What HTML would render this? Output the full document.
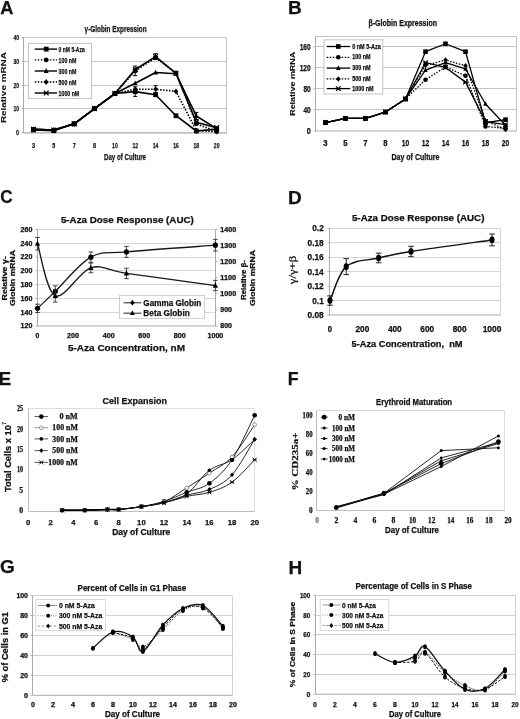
<!DOCTYPE html>
<html><head><meta charset="utf-8"><title>Figure</title>
<style>
html,body{margin:0;padding:0;background:#fff;}
body{width:520px;height:719px;overflow:hidden;}
svg{display:block;filter:blur(0.35px);}
</style></head>
<body>
<svg width="520" height="719" viewBox="0 0 520 719">
<rect width="520" height="719" fill="#fff"/>
<text x="0.20" y="14.20" font-size="19" font-weight="bold" font-family='"Liberation Sans", sans-serif' fill="#111" stroke="#111" stroke-width="0.25" textLength="13.20" lengthAdjust="spacingAndGlyphs">A</text>
<line x1="23.50" y1="108.50" x2="226.50" y2="108.50" stroke="#c4c4c4" stroke-width="1"/>
<line x1="23.50" y1="85.50" x2="226.50" y2="85.50" stroke="#c4c4c4" stroke-width="1"/>
<line x1="23.50" y1="61.50" x2="226.50" y2="61.50" stroke="#c4c4c4" stroke-width="1"/>
<line x1="23.50" y1="37.50" x2="226.50" y2="37.50" stroke="#c4c4c4" stroke-width="1"/>
<line x1="226.50" y1="37.50" x2="226.50" y2="132.90" stroke="#c4c4c4" stroke-width="1"/>
<line x1="23.50" y1="37.50" x2="23.50" y2="132.90" stroke="#ababab" stroke-width="1"/>
<line x1="23.50" y1="132.90" x2="226.50" y2="132.90" stroke="#ababab" stroke-width="1.2"/>
<line x1="21.50" y1="132.70" x2="23.50" y2="132.70" stroke="#ababab" stroke-width="1"/>
<text x="19.00" y="135.40" font-size="7.8" font-weight="bold" font-family='"Liberation Sans", sans-serif' fill="#111" stroke="#111" stroke-width="0.25" text-anchor="end" textLength="3.00" lengthAdjust="spacingAndGlyphs">0</text>
<line x1="21.50" y1="108.70" x2="23.50" y2="108.70" stroke="#ababab" stroke-width="1"/>
<text x="19.00" y="111.40" font-size="7.8" font-weight="bold" font-family='"Liberation Sans", sans-serif' fill="#111" stroke="#111" stroke-width="0.25" text-anchor="end" textLength="5.60" lengthAdjust="spacingAndGlyphs">10</text>
<line x1="21.50" y1="85.50" x2="23.50" y2="85.50" stroke="#ababab" stroke-width="1"/>
<text x="19.00" y="88.20" font-size="7.8" font-weight="bold" font-family='"Liberation Sans", sans-serif' fill="#111" stroke="#111" stroke-width="0.25" text-anchor="end" textLength="5.60" lengthAdjust="spacingAndGlyphs">20</text>
<line x1="21.50" y1="61.30" x2="23.50" y2="61.30" stroke="#ababab" stroke-width="1"/>
<text x="19.00" y="64.00" font-size="7.8" font-weight="bold" font-family='"Liberation Sans", sans-serif' fill="#111" stroke="#111" stroke-width="0.25" text-anchor="end" textLength="5.60" lengthAdjust="spacingAndGlyphs">30</text>
<line x1="21.50" y1="37.30" x2="23.50" y2="37.30" stroke="#ababab" stroke-width="1"/>
<text x="19.00" y="40.00" font-size="7.8" font-weight="bold" font-family='"Liberation Sans", sans-serif' fill="#111" stroke="#111" stroke-width="0.25" text-anchor="end" textLength="5.60" lengthAdjust="spacingAndGlyphs">40</text>
<text x="33.50" y="148.30" font-size="7.8" font-weight="bold" font-family='"Liberation Sans", sans-serif' fill="#111" stroke="#111" stroke-width="0.25" text-anchor="middle" textLength="3.00" lengthAdjust="spacingAndGlyphs">3</text>
<text x="53.85" y="148.30" font-size="7.8" font-weight="bold" font-family='"Liberation Sans", sans-serif' fill="#111" stroke="#111" stroke-width="0.25" text-anchor="middle" textLength="3.00" lengthAdjust="spacingAndGlyphs">5</text>
<text x="74.20" y="148.30" font-size="7.8" font-weight="bold" font-family='"Liberation Sans", sans-serif' fill="#111" stroke="#111" stroke-width="0.25" text-anchor="middle" textLength="3.00" lengthAdjust="spacingAndGlyphs">7</text>
<text x="94.55" y="148.30" font-size="7.8" font-weight="bold" font-family='"Liberation Sans", sans-serif' fill="#111" stroke="#111" stroke-width="0.25" text-anchor="middle" textLength="3.00" lengthAdjust="spacingAndGlyphs">8</text>
<text x="114.90" y="148.30" font-size="7.8" font-weight="bold" font-family='"Liberation Sans", sans-serif' fill="#111" stroke="#111" stroke-width="0.25" text-anchor="middle" textLength="5.60" lengthAdjust="spacingAndGlyphs">10</text>
<text x="135.25" y="148.30" font-size="7.8" font-weight="bold" font-family='"Liberation Sans", sans-serif' fill="#111" stroke="#111" stroke-width="0.25" text-anchor="middle" textLength="5.60" lengthAdjust="spacingAndGlyphs">12</text>
<text x="155.60" y="148.30" font-size="7.8" font-weight="bold" font-family='"Liberation Sans", sans-serif' fill="#111" stroke="#111" stroke-width="0.25" text-anchor="middle" textLength="5.60" lengthAdjust="spacingAndGlyphs">14</text>
<text x="175.95" y="148.30" font-size="7.8" font-weight="bold" font-family='"Liberation Sans", sans-serif' fill="#111" stroke="#111" stroke-width="0.25" text-anchor="middle" textLength="5.60" lengthAdjust="spacingAndGlyphs">16</text>
<text x="196.30" y="148.30" font-size="7.8" font-weight="bold" font-family='"Liberation Sans", sans-serif' fill="#111" stroke="#111" stroke-width="0.25" text-anchor="middle" textLength="5.60" lengthAdjust="spacingAndGlyphs">18</text>
<text x="216.65" y="148.30" font-size="7.8" font-weight="bold" font-family='"Liberation Sans", sans-serif' fill="#111" stroke="#111" stroke-width="0.25" text-anchor="middle" textLength="5.60" lengthAdjust="spacingAndGlyphs">20</text>
<text x="125.00" y="160.20" font-size="9.2" font-weight="bold" font-family='"Liberation Sans", sans-serif' fill="#111" stroke="#111" stroke-width="0.25" text-anchor="middle" textLength="42.00" lengthAdjust="spacingAndGlyphs">Day of Culture</text>
<text x="5.70" y="87.60" font-size="6.9" font-weight="bold" font-family='"Liberation Sans", sans-serif' fill="#111" stroke="#111" stroke-width="0.1" text-anchor="middle" textLength="71.00" lengthAdjust="spacingAndGlyphs" transform="rotate(-90 5.70 87.60)">Relative mRNA</text>
<text x="84.60" y="31.80" font-size="8.8" font-weight="bold" font-family='"Liberation Sans", sans-serif' fill="#111" stroke="#111" stroke-width="0.25" textLength="62.00" lengthAdjust="spacingAndGlyphs">γ-Globin Expression</text>
<rect x="28.5" y="43.5" width="63" height="55" fill="#fff" stroke="#c4c4c4" stroke-width="1"/>
<polyline points="33.50,129.92 53.85,130.75 74.20,123.84 94.55,108.57 114.90,93.55 135.25,91.64 155.60,94.74 175.95,115.73 196.30,130.99 216.65,129.08" fill="none" stroke="#000" stroke-width="1.6" stroke-linejoin="round"/>
<rect x="31.10" y="127.52" width="4.80" height="4.80" fill="#000"/>
<rect x="51.45" y="128.35" width="4.80" height="4.80" fill="#000"/>
<rect x="71.80" y="121.44" width="4.80" height="4.80" fill="#000"/>
<rect x="92.15" y="106.17" width="4.80" height="4.80" fill="#000"/>
<rect x="112.50" y="91.15" width="4.80" height="4.80" fill="#000"/>
<rect x="132.85" y="89.24" width="4.80" height="4.80" fill="#000"/>
<rect x="153.20" y="92.34" width="4.80" height="4.80" fill="#000"/>
<rect x="173.55" y="113.33" width="4.80" height="4.80" fill="#000"/>
<rect x="193.90" y="128.59" width="4.80" height="4.80" fill="#000"/>
<rect x="214.25" y="126.68" width="4.80" height="4.80" fill="#000"/>
<line x1="34.80" y1="49.10" x2="57.00" y2="49.10" stroke="#000" stroke-width="1.4"/>
<rect x="43.80" y="46.70" width="4.80" height="4.80" fill="#000"/>
<text x="58.60" y="51.70" font-size="7.3" font-weight="bold" font-family='"Liberation Sans", sans-serif' fill="#111" stroke="#111" stroke-width="0.25" textLength="26.20" lengthAdjust="spacingAndGlyphs">0 nM 5-Aza</text>
<polyline points="33.50,129.32 53.85,130.04 74.20,123.84 94.55,108.57 114.90,93.55 135.25,70.89 155.60,57.77 175.95,72.80 196.30,123.84 216.65,131.47" fill="none" stroke="#000" stroke-width="1.6" stroke-linejoin="round" stroke-dasharray="1.5,1.5"/>
<circle cx="33.50" cy="129.32" r="2.40" fill="#000" stroke="none" stroke-width="1.2"/>
<circle cx="53.85" cy="130.04" r="2.40" fill="#000" stroke="none" stroke-width="1.2"/>
<circle cx="74.20" cy="123.84" r="2.40" fill="#000" stroke="none" stroke-width="1.2"/>
<circle cx="94.55" cy="108.57" r="2.40" fill="#000" stroke="none" stroke-width="1.2"/>
<circle cx="114.90" cy="93.55" r="2.40" fill="#000" stroke="none" stroke-width="1.2"/>
<circle cx="135.25" cy="70.89" r="2.40" fill="#000" stroke="none" stroke-width="1.2"/>
<circle cx="155.60" cy="57.77" r="2.40" fill="#000" stroke="none" stroke-width="1.2"/>
<circle cx="175.95" cy="72.80" r="2.40" fill="#000" stroke="none" stroke-width="1.2"/>
<circle cx="196.30" cy="123.84" r="2.40" fill="#000" stroke="none" stroke-width="1.2"/>
<circle cx="216.65" cy="131.47" r="2.40" fill="#000" stroke="none" stroke-width="1.2"/>
<line x1="34.80" y1="59.90" x2="57.00" y2="59.90" stroke="#000" stroke-width="1.4" stroke-dasharray="1.5,1.5"/>
<circle cx="46.20" cy="59.90" r="2.40" fill="#000" stroke="none" stroke-width="1.2"/>
<text x="58.60" y="62.50" font-size="7.3" font-weight="bold" font-family='"Liberation Sans", sans-serif' fill="#111" stroke="#111" stroke-width="0.25" textLength="17.80" lengthAdjust="spacingAndGlyphs">100 nM</text>
<polyline points="33.50,129.32 53.85,130.04 74.20,123.84 94.55,108.57 114.90,93.55 135.25,83.29 155.60,72.56 175.95,73.75 196.30,115.97 216.65,128.61" fill="none" stroke="#000" stroke-width="1.6" stroke-linejoin="round"/>
<polygon points="33.50,126.44 35.90,131.24 31.10,131.24" fill="#000"/>
<polygon points="53.85,127.16 56.25,131.96 51.45,131.96" fill="#000"/>
<polygon points="74.20,120.96 76.60,125.76 71.80,125.76" fill="#000"/>
<polygon points="94.55,105.69 96.95,110.49 92.15,110.49" fill="#000"/>
<polygon points="114.90,90.67 117.30,95.47 112.50,95.47" fill="#000"/>
<polygon points="135.25,80.41 137.65,85.21 132.85,85.21" fill="#000"/>
<polygon points="155.60,69.68 158.00,74.48 153.20,74.48" fill="#000"/>
<polygon points="175.95,70.87 178.35,75.67 173.55,75.67" fill="#000"/>
<polygon points="196.30,113.09 198.70,117.89 193.90,117.89" fill="#000"/>
<polygon points="216.65,125.73 219.05,130.53 214.25,130.53" fill="#000"/>
<line x1="34.80" y1="71.00" x2="57.00" y2="71.00" stroke="#000" stroke-width="1.4"/>
<polygon points="46.20,68.12 48.60,72.92 43.80,72.92" fill="#000"/>
<text x="58.60" y="73.60" font-size="7.3" font-weight="bold" font-family='"Liberation Sans", sans-serif' fill="#111" stroke="#111" stroke-width="0.25" textLength="17.80" lengthAdjust="spacingAndGlyphs">300 nM</text>
<polyline points="33.50,129.32 53.85,130.04 74.20,123.84 94.55,108.57 114.90,93.55 135.25,89.25 155.60,89.25 175.95,91.40 196.30,130.52 216.65,131.71" fill="none" stroke="#000" stroke-width="1.6" stroke-linejoin="round" stroke-dasharray="1.5,1.5"/>
<polygon points="33.50,126.44 35.90,129.32 33.50,132.20 31.10,129.32" fill="#000"/>
<polygon points="53.85,127.16 56.25,130.04 53.85,132.92 51.45,130.04" fill="#000"/>
<polygon points="74.20,120.96 76.60,123.84 74.20,126.72 71.80,123.84" fill="#000"/>
<polygon points="94.55,105.69 96.95,108.57 94.55,111.45 92.15,108.57" fill="#000"/>
<polygon points="114.90,90.67 117.30,93.55 114.90,96.43 112.50,93.55" fill="#000"/>
<polygon points="135.25,86.37 137.65,89.25 135.25,92.13 132.85,89.25" fill="#000"/>
<polygon points="155.60,86.37 158.00,89.25 155.60,92.13 153.20,89.25" fill="#000"/>
<polygon points="175.95,88.52 178.35,91.40 175.95,94.28 173.55,91.40" fill="#000"/>
<polygon points="196.30,127.64 198.70,130.52 196.30,133.40 193.90,130.52" fill="#000"/>
<polygon points="216.65,128.83 219.05,131.71 216.65,134.59 214.25,131.71" fill="#000"/>
<line x1="34.80" y1="82.00" x2="57.00" y2="82.00" stroke="#000" stroke-width="1.4" stroke-dasharray="1.5,1.5"/>
<polygon points="46.20,79.12 48.60,82.00 46.20,84.88 43.80,82.00" fill="#000"/>
<text x="58.60" y="84.60" font-size="7.3" font-weight="bold" font-family='"Liberation Sans", sans-serif' fill="#111" stroke="#111" stroke-width="0.25" textLength="17.80" lengthAdjust="spacingAndGlyphs">500 nM</text>
<polyline points="33.50,129.32 53.85,130.04 74.20,123.84 94.55,108.57 114.90,93.55 135.25,69.46 155.60,56.58 175.95,73.28 196.30,122.17 216.65,127.65" fill="none" stroke="#000" stroke-width="1.6" stroke-linejoin="round"/>
<path d="M31.10,126.92 L35.90,131.72 M35.90,126.92 L31.10,131.72 M31.10,129.32 L35.90,129.32" stroke="#000" stroke-width="1.2" fill="none"/>
<path d="M51.45,127.64 L56.25,132.44 M56.25,127.64 L51.45,132.44 M51.45,130.04 L56.25,130.04" stroke="#000" stroke-width="1.2" fill="none"/>
<path d="M71.80,121.44 L76.60,126.24 M76.60,121.44 L71.80,126.24 M71.80,123.84 L76.60,123.84" stroke="#000" stroke-width="1.2" fill="none"/>
<path d="M92.15,106.17 L96.95,110.97 M96.95,106.17 L92.15,110.97 M92.15,108.57 L96.95,108.57" stroke="#000" stroke-width="1.2" fill="none"/>
<path d="M112.50,91.15 L117.30,95.95 M117.30,91.15 L112.50,95.95 M112.50,93.55 L117.30,93.55" stroke="#000" stroke-width="1.2" fill="none"/>
<path d="M132.85,67.06 L137.65,71.86 M137.65,67.06 L132.85,71.86 M132.85,69.46 L137.65,69.46" stroke="#000" stroke-width="1.2" fill="none"/>
<path d="M153.20,54.18 L158.00,58.98 M158.00,54.18 L153.20,58.98 M153.20,56.58 L158.00,56.58" stroke="#000" stroke-width="1.2" fill="none"/>
<path d="M173.55,70.88 L178.35,75.68 M178.35,70.88 L173.55,75.68 M173.55,73.28 L178.35,73.28" stroke="#000" stroke-width="1.2" fill="none"/>
<path d="M193.90,119.77 L198.70,124.57 M198.70,119.77 L193.90,124.57 M193.90,122.17 L198.70,122.17" stroke="#000" stroke-width="1.2" fill="none"/>
<path d="M214.25,125.25 L219.05,130.05 M219.05,125.25 L214.25,130.05 M214.25,127.65 L219.05,127.65" stroke="#000" stroke-width="1.2" fill="none"/>
<line x1="34.80" y1="93.00" x2="57.00" y2="93.00" stroke="#000" stroke-width="1.4"/>
<path d="M43.80,90.60 L48.60,95.40 M48.60,90.60 L43.80,95.40 M43.80,93.00 L48.60,93.00" stroke="#000" stroke-width="1.2" fill="none"/>
<text x="58.60" y="95.60" font-size="7.3" font-weight="bold" font-family='"Liberation Sans", sans-serif' fill="#111" stroke="#111" stroke-width="0.25" textLength="20.60" lengthAdjust="spacingAndGlyphs">1000 nM</text>
<line x1="135.20" y1="66.12" x2="135.20" y2="75.66" stroke="#000" stroke-width="1"/>
<line x1="133.20" y1="66.12" x2="137.20" y2="66.12" stroke="#000" stroke-width="1"/>
<line x1="133.20" y1="75.66" x2="137.20" y2="75.66" stroke="#000" stroke-width="1"/>
<line x1="155.60" y1="53.72" x2="155.60" y2="59.44" stroke="#000" stroke-width="1"/>
<line x1="153.60" y1="53.72" x2="157.60" y2="53.72" stroke="#000" stroke-width="1"/>
<line x1="153.60" y1="59.44" x2="157.60" y2="59.44" stroke="#000" stroke-width="1"/>
<line x1="135.20" y1="86.87" x2="135.20" y2="96.41" stroke="#000" stroke-width="1"/>
<line x1="133.20" y1="86.87" x2="137.20" y2="86.87" stroke="#000" stroke-width="1"/>
<line x1="133.20" y1="96.41" x2="137.20" y2="96.41" stroke="#000" stroke-width="1"/>
<line x1="155.60" y1="85.68" x2="155.60" y2="92.83" stroke="#000" stroke-width="1"/>
<line x1="153.60" y1="85.68" x2="157.60" y2="85.68" stroke="#000" stroke-width="1"/>
<line x1="153.60" y1="92.83" x2="157.60" y2="92.83" stroke="#000" stroke-width="1"/>
<line x1="196.40" y1="112.39" x2="196.40" y2="119.54" stroke="#000" stroke-width="1"/>
<line x1="194.40" y1="112.39" x2="198.40" y2="112.39" stroke="#000" stroke-width="1"/>
<line x1="194.40" y1="119.54" x2="198.40" y2="119.54" stroke="#000" stroke-width="1"/>
<text x="287.95" y="14.20" font-size="19" font-weight="bold" font-family='"Liberation Sans", sans-serif' fill="#111" stroke="#111" stroke-width="0.25">B</text>
<line x1="315.50" y1="109.50" x2="516.50" y2="109.50" stroke="#c4c4c4" stroke-width="1"/>
<line x1="315.50" y1="88.50" x2="516.50" y2="88.50" stroke="#c4c4c4" stroke-width="1"/>
<line x1="315.50" y1="67.50" x2="516.50" y2="67.50" stroke="#c4c4c4" stroke-width="1"/>
<line x1="315.50" y1="46.50" x2="516.50" y2="46.50" stroke="#c4c4c4" stroke-width="1"/>
<line x1="315.50" y1="36.50" x2="516.50" y2="36.50" stroke="#c4c4c4" stroke-width="1"/>
<line x1="516.50" y1="36.50" x2="516.50" y2="131.00" stroke="#c4c4c4" stroke-width="1"/>
<line x1="315.50" y1="36.50" x2="315.50" y2="131.00" stroke="#ababab" stroke-width="1"/>
<line x1="315.50" y1="131.00" x2="516.50" y2="131.00" stroke="#ababab" stroke-width="1.2"/>
<line x1="313.50" y1="131.00" x2="315.50" y2="131.00" stroke="#ababab" stroke-width="1"/>
<text x="310.70" y="133.90" font-size="8.2" font-weight="bold" font-family='"Liberation Sans", sans-serif' fill="#111" stroke="#111" stroke-width="0.25" text-anchor="end" textLength="4.00" lengthAdjust="spacingAndGlyphs">0</text>
<line x1="313.50" y1="109.98" x2="315.50" y2="109.98" stroke="#ababab" stroke-width="1"/>
<text x="310.70" y="112.88" font-size="8.2" font-weight="bold" font-family='"Liberation Sans", sans-serif' fill="#111" stroke="#111" stroke-width="0.25" text-anchor="end" textLength="7.30" lengthAdjust="spacingAndGlyphs">40</text>
<line x1="313.50" y1="88.96" x2="315.50" y2="88.96" stroke="#ababab" stroke-width="1"/>
<text x="310.70" y="91.86" font-size="8.2" font-weight="bold" font-family='"Liberation Sans", sans-serif' fill="#111" stroke="#111" stroke-width="0.25" text-anchor="end" textLength="7.30" lengthAdjust="spacingAndGlyphs">80</text>
<line x1="313.50" y1="67.94" x2="315.50" y2="67.94" stroke="#ababab" stroke-width="1"/>
<text x="310.70" y="70.84" font-size="8.2" font-weight="bold" font-family='"Liberation Sans", sans-serif' fill="#111" stroke="#111" stroke-width="0.25" text-anchor="end" textLength="11.00" lengthAdjust="spacingAndGlyphs">120</text>
<line x1="313.50" y1="46.92" x2="315.50" y2="46.92" stroke="#ababab" stroke-width="1"/>
<text x="310.70" y="49.82" font-size="8.2" font-weight="bold" font-family='"Liberation Sans", sans-serif' fill="#111" stroke="#111" stroke-width="0.25" text-anchor="end" textLength="11.00" lengthAdjust="spacingAndGlyphs">160</text>
<text x="325.50" y="146.00" font-size="8.6" font-weight="bold" font-family='"Liberation Sans", sans-serif' fill="#111" stroke="#111" stroke-width="0.25" text-anchor="middle" textLength="4.30" lengthAdjust="spacingAndGlyphs">3</text>
<text x="345.50" y="146.00" font-size="8.6" font-weight="bold" font-family='"Liberation Sans", sans-serif' fill="#111" stroke="#111" stroke-width="0.25" text-anchor="middle" textLength="4.30" lengthAdjust="spacingAndGlyphs">5</text>
<text x="365.50" y="146.00" font-size="8.6" font-weight="bold" font-family='"Liberation Sans", sans-serif' fill="#111" stroke="#111" stroke-width="0.25" text-anchor="middle" textLength="4.30" lengthAdjust="spacingAndGlyphs">7</text>
<text x="385.50" y="146.00" font-size="8.6" font-weight="bold" font-family='"Liberation Sans", sans-serif' fill="#111" stroke="#111" stroke-width="0.25" text-anchor="middle" textLength="4.30" lengthAdjust="spacingAndGlyphs">8</text>
<text x="405.50" y="146.00" font-size="8.6" font-weight="bold" font-family='"Liberation Sans", sans-serif' fill="#111" stroke="#111" stroke-width="0.25" text-anchor="middle" textLength="7.40" lengthAdjust="spacingAndGlyphs">10</text>
<text x="425.50" y="146.00" font-size="8.6" font-weight="bold" font-family='"Liberation Sans", sans-serif' fill="#111" stroke="#111" stroke-width="0.25" text-anchor="middle" textLength="7.40" lengthAdjust="spacingAndGlyphs">12</text>
<text x="445.50" y="146.00" font-size="8.6" font-weight="bold" font-family='"Liberation Sans", sans-serif' fill="#111" stroke="#111" stroke-width="0.25" text-anchor="middle" textLength="7.40" lengthAdjust="spacingAndGlyphs">14</text>
<text x="465.50" y="146.00" font-size="8.6" font-weight="bold" font-family='"Liberation Sans", sans-serif' fill="#111" stroke="#111" stroke-width="0.25" text-anchor="middle" textLength="7.40" lengthAdjust="spacingAndGlyphs">16</text>
<text x="485.50" y="146.00" font-size="8.6" font-weight="bold" font-family='"Liberation Sans", sans-serif' fill="#111" stroke="#111" stroke-width="0.25" text-anchor="middle" textLength="7.40" lengthAdjust="spacingAndGlyphs">18</text>
<text x="505.50" y="146.00" font-size="8.6" font-weight="bold" font-family='"Liberation Sans", sans-serif' fill="#111" stroke="#111" stroke-width="0.25" text-anchor="middle" textLength="7.40" lengthAdjust="spacingAndGlyphs">20</text>
<text x="415.50" y="159.60" font-size="8.8" font-weight="bold" font-family='"Liberation Sans", sans-serif' fill="#111" stroke="#111" stroke-width="0.25" text-anchor="middle" textLength="48.00" lengthAdjust="spacingAndGlyphs">Day of Culture</text>
<text x="295.00" y="83.80" font-size="7.4" font-weight="bold" font-family='"Liberation Sans", sans-serif' fill="#111" stroke="#111" stroke-width="0.1" text-anchor="middle" textLength="64.00" lengthAdjust="spacingAndGlyphs" transform="rotate(-90 295.00 83.80)">Relative mRNA</text>
<text x="368.50" y="26.30" font-size="8.4" font-weight="bold" font-family='"Liberation Sans", sans-serif' fill="#111" stroke="#111" stroke-width="0.25" textLength="68.50" lengthAdjust="spacingAndGlyphs">β-Globin Expression</text>
<rect x="324.0" y="39.8" width="58.8" height="54.2" fill="#fff" stroke="#c4c4c4" stroke-width="1"/>
<polyline points="325.50,122.59 345.50,118.39 365.50,118.39 385.50,112.08 405.50,98.94 425.50,51.65 445.50,43.77 465.50,51.65 485.50,122.75 505.50,119.65" fill="none" stroke="#000" stroke-width="1.3" stroke-linejoin="round"/>
<rect x="323.20" y="120.29" width="4.60" height="4.60" fill="#000"/>
<rect x="343.20" y="116.09" width="4.60" height="4.60" fill="#000"/>
<rect x="363.20" y="116.09" width="4.60" height="4.60" fill="#000"/>
<rect x="383.20" y="109.78" width="4.60" height="4.60" fill="#000"/>
<rect x="403.20" y="96.64" width="4.60" height="4.60" fill="#000"/>
<rect x="423.20" y="49.35" width="4.60" height="4.60" fill="#000"/>
<rect x="443.20" y="41.47" width="4.60" height="4.60" fill="#000"/>
<rect x="463.20" y="49.35" width="4.60" height="4.60" fill="#000"/>
<rect x="483.20" y="120.45" width="4.60" height="4.60" fill="#000"/>
<rect x="503.20" y="117.35" width="4.60" height="4.60" fill="#000"/>
<line x1="326.70" y1="46.50" x2="350.20" y2="46.50" stroke="#000" stroke-width="1.3"/>
<rect x="336.00" y="44.20" width="4.60" height="4.60" fill="#000"/>
<text x="352.20" y="48.50" font-size="6.4" font-weight="bold" font-family='"Liberation Sans", sans-serif' fill="#111" stroke="#111" stroke-width="0.25" textLength="28.60" lengthAdjust="spacingAndGlyphs">0 nM 5-Aza</text>
<polyline points="325.50,122.59 345.50,118.39 365.50,118.39 385.50,112.08 405.50,98.94 425.50,79.76 445.50,66.89 465.50,75.82 485.50,126.48 505.50,128.37" fill="none" stroke="#000" stroke-width="1.3" stroke-linejoin="round" stroke-dasharray="1.5,1.5"/>
<circle cx="325.50" cy="122.59" r="2.30" fill="#000" stroke="none" stroke-width="1.2"/>
<circle cx="345.50" cy="118.39" r="2.30" fill="#000" stroke="none" stroke-width="1.2"/>
<circle cx="365.50" cy="118.39" r="2.30" fill="#000" stroke="none" stroke-width="1.2"/>
<circle cx="385.50" cy="112.08" r="2.30" fill="#000" stroke="none" stroke-width="1.2"/>
<circle cx="405.50" cy="98.94" r="2.30" fill="#000" stroke="none" stroke-width="1.2"/>
<circle cx="425.50" cy="79.76" r="2.30" fill="#000" stroke="none" stroke-width="1.2"/>
<circle cx="445.50" cy="66.89" r="2.30" fill="#000" stroke="none" stroke-width="1.2"/>
<circle cx="465.50" cy="75.82" r="2.30" fill="#000" stroke="none" stroke-width="1.2"/>
<circle cx="485.50" cy="126.48" r="2.30" fill="#000" stroke="none" stroke-width="1.2"/>
<circle cx="505.50" cy="128.37" r="2.30" fill="#000" stroke="none" stroke-width="1.2"/>
<line x1="326.70" y1="57.30" x2="350.20" y2="57.30" stroke="#000" stroke-width="1.3" stroke-dasharray="1.5,1.5"/>
<circle cx="338.30" cy="57.30" r="2.30" fill="#000" stroke="none" stroke-width="1.2"/>
<text x="352.20" y="59.30" font-size="6.4" font-weight="bold" font-family='"Liberation Sans", sans-serif' fill="#111" stroke="#111" stroke-width="0.25" textLength="18.40" lengthAdjust="spacingAndGlyphs">100 nM</text>
<polyline points="325.50,122.59 345.50,118.39 365.50,118.39 385.50,112.08 405.50,98.94 425.50,70.04 445.50,62.69 465.50,68.99 485.50,103.99 505.50,125.22" fill="none" stroke="#000" stroke-width="1.3" stroke-linejoin="round"/>
<polygon points="325.50,119.83 327.80,124.43 323.20,124.43" fill="#000"/>
<polygon points="345.50,115.63 347.80,120.23 343.20,120.23" fill="#000"/>
<polygon points="365.50,115.63 367.80,120.23 363.20,120.23" fill="#000"/>
<polygon points="385.50,109.32 387.80,113.92 383.20,113.92" fill="#000"/>
<polygon points="405.50,96.18 407.80,100.78 403.20,100.78" fill="#000"/>
<polygon points="425.50,67.28 427.80,71.88 423.20,71.88" fill="#000"/>
<polygon points="445.50,59.93 447.80,64.53 443.20,64.53" fill="#000"/>
<polygon points="465.50,66.23 467.80,70.83 463.20,70.83" fill="#000"/>
<polygon points="485.50,101.23 487.80,105.83 483.20,105.83" fill="#000"/>
<polygon points="505.50,122.46 507.80,127.06 503.20,127.06" fill="#000"/>
<line x1="326.70" y1="68.10" x2="350.20" y2="68.10" stroke="#000" stroke-width="1.3"/>
<polygon points="338.30,65.34 340.60,69.94 336.00,69.94" fill="#000"/>
<text x="352.20" y="70.10" font-size="6.4" font-weight="bold" font-family='"Liberation Sans", sans-serif' fill="#111" stroke="#111" stroke-width="0.25" textLength="18.40" lengthAdjust="spacingAndGlyphs">300 nM</text>
<polyline points="325.50,122.59 345.50,118.39 365.50,118.39 385.50,112.08 405.50,98.94 425.50,65.31 445.50,60.06 465.50,65.84 485.50,120.86 505.50,129.42" fill="none" stroke="#000" stroke-width="1.3" stroke-linejoin="round" stroke-dasharray="1.5,1.5"/>
<polygon points="325.50,119.83 327.80,122.59 325.50,125.35 323.20,122.59" fill="#000"/>
<polygon points="345.50,115.63 347.80,118.39 345.50,121.15 343.20,118.39" fill="#000"/>
<polygon points="365.50,115.63 367.80,118.39 365.50,121.15 363.20,118.39" fill="#000"/>
<polygon points="385.50,109.32 387.80,112.08 385.50,114.84 383.20,112.08" fill="#000"/>
<polygon points="405.50,96.18 407.80,98.94 405.50,101.70 403.20,98.94" fill="#000"/>
<polygon points="425.50,62.55 427.80,65.31 425.50,68.07 423.20,65.31" fill="#000"/>
<polygon points="445.50,57.30 447.80,60.06 445.50,62.82 443.20,60.06" fill="#000"/>
<polygon points="465.50,63.08 467.80,65.84 465.50,68.60 463.20,65.84" fill="#000"/>
<polygon points="485.50,118.10 487.80,120.86 485.50,123.62 483.20,120.86" fill="#000"/>
<polygon points="505.50,126.66 507.80,129.42 505.50,132.18 503.20,129.42" fill="#000"/>
<line x1="326.70" y1="78.90" x2="350.20" y2="78.90" stroke="#000" stroke-width="1.3" stroke-dasharray="1.5,1.5"/>
<polygon points="338.30,76.14 340.60,78.90 338.30,81.66 336.00,78.90" fill="#000"/>
<text x="352.20" y="80.90" font-size="6.4" font-weight="bold" font-family='"Liberation Sans", sans-serif' fill="#111" stroke="#111" stroke-width="0.25" textLength="18.40" lengthAdjust="spacingAndGlyphs">500 nM</text>
<polyline points="325.50,122.59 345.50,118.39 365.50,118.39 385.50,112.08 405.50,98.94 425.50,62.69 445.50,67.41 465.50,82.13 485.50,121.54 505.50,124.69" fill="none" stroke="#000" stroke-width="1.3" stroke-linejoin="round"/>
<path d="M323.20,120.29 L327.80,124.89 M327.80,120.29 L323.20,124.89 M323.20,122.59 L327.80,122.59" stroke="#000" stroke-width="1.2" fill="none"/>
<path d="M343.20,116.09 L347.80,120.69 M347.80,116.09 L343.20,120.69 M343.20,118.39 L347.80,118.39" stroke="#000" stroke-width="1.2" fill="none"/>
<path d="M363.20,116.09 L367.80,120.69 M367.80,116.09 L363.20,120.69 M363.20,118.39 L367.80,118.39" stroke="#000" stroke-width="1.2" fill="none"/>
<path d="M383.20,109.78 L387.80,114.38 M387.80,109.78 L383.20,114.38 M383.20,112.08 L387.80,112.08" stroke="#000" stroke-width="1.2" fill="none"/>
<path d="M403.20,96.64 L407.80,101.24 M407.80,96.64 L403.20,101.24 M403.20,98.94 L407.80,98.94" stroke="#000" stroke-width="1.2" fill="none"/>
<path d="M423.20,60.39 L427.80,64.98 M427.80,60.39 L423.20,64.98 M423.20,62.69 L427.80,62.69" stroke="#000" stroke-width="1.2" fill="none"/>
<path d="M443.20,65.11 L447.80,69.71 M447.80,65.11 L443.20,69.71 M443.20,67.41 L447.80,67.41" stroke="#000" stroke-width="1.2" fill="none"/>
<path d="M463.20,79.83 L467.80,84.43 M467.80,79.83 L463.20,84.43 M463.20,82.13 L467.80,82.13" stroke="#000" stroke-width="1.2" fill="none"/>
<path d="M483.20,119.24 L487.80,123.84 M487.80,119.24 L483.20,123.84 M483.20,121.54 L487.80,121.54" stroke="#000" stroke-width="1.2" fill="none"/>
<path d="M503.20,122.39 L507.80,126.99 M507.80,122.39 L503.20,126.99 M503.20,124.69 L507.80,124.69" stroke="#000" stroke-width="1.2" fill="none"/>
<line x1="326.70" y1="88.60" x2="350.20" y2="88.60" stroke="#000" stroke-width="1.3"/>
<path d="M336.00,86.30 L340.60,90.90 M340.60,86.30 L336.00,90.90 M336.00,88.60 L340.60,88.60" stroke="#000" stroke-width="1.2" fill="none"/>
<text x="352.20" y="90.60" font-size="6.4" font-weight="bold" font-family='"Liberation Sans", sans-serif' fill="#111" stroke="#111" stroke-width="0.25" textLength="21.40" lengthAdjust="spacingAndGlyphs">1000 nM</text>
<text x="0.20" y="203.40" font-size="19" font-weight="bold" font-family='"Liberation Sans", sans-serif' fill="#111" stroke="#111" stroke-width="0.25" textLength="12.35" lengthAdjust="spacingAndGlyphs">C</text>
<line x1="37.50" y1="312.50" x2="215.50" y2="312.50" stroke="#d2d2d2" stroke-width="0.9"/>
<line x1="37.50" y1="298.50" x2="215.50" y2="298.50" stroke="#d2d2d2" stroke-width="0.9"/>
<line x1="37.50" y1="284.50" x2="215.50" y2="284.50" stroke="#d2d2d2" stroke-width="0.9"/>
<line x1="37.50" y1="270.50" x2="215.50" y2="270.50" stroke="#d2d2d2" stroke-width="0.9"/>
<line x1="37.50" y1="257.50" x2="215.50" y2="257.50" stroke="#d2d2d2" stroke-width="0.9"/>
<line x1="37.50" y1="243.50" x2="215.50" y2="243.50" stroke="#d2d2d2" stroke-width="0.9"/>
<line x1="37.50" y1="229.50" x2="215.50" y2="229.50" stroke="#d2d2d2" stroke-width="0.9"/>
<line x1="37.50" y1="229.40" x2="37.50" y2="326.00" stroke="#ababab" stroke-width="1"/>
<line x1="215.50" y1="229.40" x2="215.50" y2="326.00" stroke="#ababab" stroke-width="1"/>
<line x1="37.50" y1="326.00" x2="215.50" y2="326.00" stroke="#ababab" stroke-width="1"/>
<line x1="35.50" y1="326.10" x2="37.50" y2="326.10" stroke="#ababab" stroke-width="1"/>
<text x="32.40" y="328.40" font-size="6.4" font-weight="bold" font-family='"Liberation Sans", sans-serif' fill="#111" stroke="#111" stroke-width="0.25" text-anchor="end" textLength="11.80" lengthAdjust="spacingAndGlyphs">120</text>
<line x1="35.50" y1="312.28" x2="37.50" y2="312.28" stroke="#ababab" stroke-width="1"/>
<text x="32.40" y="314.58" font-size="6.4" font-weight="bold" font-family='"Liberation Sans", sans-serif' fill="#111" stroke="#111" stroke-width="0.25" text-anchor="end" textLength="11.80" lengthAdjust="spacingAndGlyphs">140</text>
<line x1="35.50" y1="298.47" x2="37.50" y2="298.47" stroke="#ababab" stroke-width="1"/>
<text x="32.40" y="300.77" font-size="6.4" font-weight="bold" font-family='"Liberation Sans", sans-serif' fill="#111" stroke="#111" stroke-width="0.25" text-anchor="end" textLength="11.80" lengthAdjust="spacingAndGlyphs">160</text>
<line x1="35.50" y1="284.66" x2="37.50" y2="284.66" stroke="#ababab" stroke-width="1"/>
<text x="32.40" y="286.96" font-size="6.4" font-weight="bold" font-family='"Liberation Sans", sans-serif' fill="#111" stroke="#111" stroke-width="0.25" text-anchor="end" textLength="11.80" lengthAdjust="spacingAndGlyphs">180</text>
<line x1="35.50" y1="270.84" x2="37.50" y2="270.84" stroke="#ababab" stroke-width="1"/>
<text x="32.40" y="273.14" font-size="6.4" font-weight="bold" font-family='"Liberation Sans", sans-serif' fill="#111" stroke="#111" stroke-width="0.25" text-anchor="end" textLength="11.80" lengthAdjust="spacingAndGlyphs">200</text>
<line x1="35.50" y1="257.03" x2="37.50" y2="257.03" stroke="#ababab" stroke-width="1"/>
<text x="32.40" y="259.33" font-size="6.4" font-weight="bold" font-family='"Liberation Sans", sans-serif' fill="#111" stroke="#111" stroke-width="0.25" text-anchor="end" textLength="11.80" lengthAdjust="spacingAndGlyphs">220</text>
<line x1="35.50" y1="243.21" x2="37.50" y2="243.21" stroke="#ababab" stroke-width="1"/>
<text x="32.40" y="245.51" font-size="6.4" font-weight="bold" font-family='"Liberation Sans", sans-serif' fill="#111" stroke="#111" stroke-width="0.25" text-anchor="end" textLength="11.80" lengthAdjust="spacingAndGlyphs">240</text>
<line x1="35.50" y1="229.40" x2="37.50" y2="229.40" stroke="#ababab" stroke-width="1"/>
<text x="32.40" y="231.70" font-size="6.4" font-weight="bold" font-family='"Liberation Sans", sans-serif' fill="#111" stroke="#111" stroke-width="0.25" text-anchor="end" textLength="11.80" lengthAdjust="spacingAndGlyphs">260</text>
<line x1="215.50" y1="326.10" x2="217.50" y2="326.10" stroke="#ababab" stroke-width="1"/>
<text x="220.30" y="328.40" font-size="6.4" font-weight="bold" font-family='"Liberation Sans", sans-serif' fill="#111" stroke="#111" stroke-width="0.25" textLength="11.70" lengthAdjust="spacingAndGlyphs">800</text>
<line x1="215.50" y1="309.99" x2="217.50" y2="309.99" stroke="#ababab" stroke-width="1"/>
<text x="220.30" y="312.29" font-size="6.4" font-weight="bold" font-family='"Liberation Sans", sans-serif' fill="#111" stroke="#111" stroke-width="0.25" textLength="11.70" lengthAdjust="spacingAndGlyphs">900</text>
<line x1="215.50" y1="293.87" x2="217.50" y2="293.87" stroke="#ababab" stroke-width="1"/>
<text x="220.30" y="296.17" font-size="6.4" font-weight="bold" font-family='"Liberation Sans", sans-serif' fill="#111" stroke="#111" stroke-width="0.25" textLength="15.90" lengthAdjust="spacingAndGlyphs">1000</text>
<line x1="215.50" y1="277.75" x2="217.50" y2="277.75" stroke="#ababab" stroke-width="1"/>
<text x="220.30" y="280.05" font-size="6.4" font-weight="bold" font-family='"Liberation Sans", sans-serif' fill="#111" stroke="#111" stroke-width="0.25" textLength="15.90" lengthAdjust="spacingAndGlyphs">1100</text>
<line x1="215.50" y1="261.63" x2="217.50" y2="261.63" stroke="#ababab" stroke-width="1"/>
<text x="220.30" y="263.93" font-size="6.4" font-weight="bold" font-family='"Liberation Sans", sans-serif' fill="#111" stroke="#111" stroke-width="0.25" textLength="15.90" lengthAdjust="spacingAndGlyphs">1200</text>
<line x1="215.50" y1="245.52" x2="217.50" y2="245.52" stroke="#ababab" stroke-width="1"/>
<text x="220.30" y="247.82" font-size="6.4" font-weight="bold" font-family='"Liberation Sans", sans-serif' fill="#111" stroke="#111" stroke-width="0.25" textLength="15.90" lengthAdjust="spacingAndGlyphs">1300</text>
<line x1="215.50" y1="229.40" x2="217.50" y2="229.40" stroke="#ababab" stroke-width="1"/>
<text x="220.30" y="231.70" font-size="6.4" font-weight="bold" font-family='"Liberation Sans", sans-serif' fill="#111" stroke="#111" stroke-width="0.25" textLength="15.90" lengthAdjust="spacingAndGlyphs">1400</text>
<text x="37.50" y="337.90" font-size="6.4" font-weight="bold" font-family='"Liberation Sans", sans-serif' fill="#111" stroke="#111" stroke-width="0.25" text-anchor="middle" textLength="3.80" lengthAdjust="spacingAndGlyphs">0</text>
<text x="73.08" y="337.90" font-size="6.4" font-weight="bold" font-family='"Liberation Sans", sans-serif' fill="#111" stroke="#111" stroke-width="0.25" text-anchor="middle" textLength="11.90" lengthAdjust="spacingAndGlyphs">200</text>
<text x="108.66" y="337.90" font-size="6.4" font-weight="bold" font-family='"Liberation Sans", sans-serif' fill="#111" stroke="#111" stroke-width="0.25" text-anchor="middle" textLength="11.90" lengthAdjust="spacingAndGlyphs">400</text>
<text x="144.24" y="337.90" font-size="6.4" font-weight="bold" font-family='"Liberation Sans", sans-serif' fill="#111" stroke="#111" stroke-width="0.25" text-anchor="middle" textLength="11.90" lengthAdjust="spacingAndGlyphs">600</text>
<text x="179.82" y="337.90" font-size="6.4" font-weight="bold" font-family='"Liberation Sans", sans-serif' fill="#111" stroke="#111" stroke-width="0.25" text-anchor="middle" textLength="11.90" lengthAdjust="spacingAndGlyphs">800</text>
<text x="215.40" y="337.90" font-size="6.4" font-weight="bold" font-family='"Liberation Sans", sans-serif' fill="#111" stroke="#111" stroke-width="0.25" text-anchor="middle" textLength="15.90" lengthAdjust="spacingAndGlyphs">1000</text>
<text x="126.50" y="350.70" font-size="9.8" font-weight="bold" font-family='"Liberation Sans", sans-serif' fill="#111" stroke="#111" stroke-width="0.25" text-anchor="middle" textLength="117.00" lengthAdjust="spacingAndGlyphs">5-Aza Concentration, nM</text>
<text x="127.40" y="222.80" font-size="9.4" font-weight="bold" font-family='"Liberation Sans", sans-serif' fill="#111" stroke="#111" stroke-width="0.25" text-anchor="middle" textLength="133.00" lengthAdjust="spacingAndGlyphs">5-Aza Dose Response (AUC)</text>
<text x="7.10" y="278.30" font-size="7.0" font-weight="bold" font-family='"Liberation Sans", sans-serif' fill="#111" stroke="#111" stroke-width="0.25" text-anchor="middle" textLength="44.50" lengthAdjust="spacingAndGlyphs" transform="rotate(-90 7.10 278.30)">Relative γ-</text>
<text x="15.30" y="278.00" font-size="7.0" font-weight="bold" font-family='"Liberation Sans", sans-serif' fill="#111" stroke="#111" stroke-width="0.25" text-anchor="middle" textLength="55.80" lengthAdjust="spacingAndGlyphs" transform="rotate(-90 15.30 278.00)">Globin mRNA</text>
<text x="246.40" y="280.00" font-size="7.0" font-weight="bold" font-family='"Liberation Sans", sans-serif' fill="#111" stroke="#111" stroke-width="0.25" text-anchor="middle" textLength="40.00" lengthAdjust="spacingAndGlyphs" transform="rotate(-90 246.40 280.00)">Relative β-</text>
<text x="255.40" y="278.00" font-size="7.0" font-weight="bold" font-family='"Liberation Sans", sans-serif' fill="#111" stroke="#111" stroke-width="0.25" text-anchor="middle" textLength="55.80" lengthAdjust="spacingAndGlyphs" transform="rotate(-90 255.40 278.00)">Globin mRNA</text>
<path d="M37.50,308.35 C40.47,305.52 46.39,299.89 55.29,291.36 C64.19,282.83 79.01,263.74 90.87,257.17 C102.73,250.59 105.70,253.91 126.45,251.92 C147.21,249.93 200.58,246.33 215.40,245.22" fill="none" stroke="#1a1a1a" stroke-width="1.3"/>
<path d="M37.50,243.70 C40.47,252.39 46.39,291.82 55.29,295.85 C64.19,299.87 79.01,271.61 90.87,267.87 C102.73,264.13 105.70,270.45 126.45,273.40 C147.21,276.34 200.58,283.53 215.40,285.55" fill="none" stroke="#1a1a1a" stroke-width="1.3"/>
<line x1="37.50" y1="304.20" x2="37.50" y2="312.49" stroke="#333" stroke-width="0.9"/>
<line x1="35.20" y1="304.20" x2="39.80" y2="304.20" stroke="#333" stroke-width="0.9"/>
<line x1="35.20" y1="312.49" x2="39.80" y2="312.49" stroke="#333" stroke-width="0.9"/>
<circle cx="37.50" cy="308.35" r="2.60" fill="#000" stroke="none" stroke-width="1"/>
<line x1="55.29" y1="285.83" x2="55.29" y2="296.88" stroke="#333" stroke-width="0.9"/>
<line x1="52.99" y1="285.83" x2="57.59" y2="285.83" stroke="#333" stroke-width="0.9"/>
<line x1="52.99" y1="296.88" x2="57.59" y2="296.88" stroke="#333" stroke-width="0.9"/>
<circle cx="55.29" cy="291.36" r="2.60" fill="#000" stroke="none" stroke-width="1"/>
<line x1="90.87" y1="251.99" x2="90.87" y2="262.35" stroke="#333" stroke-width="0.9"/>
<line x1="88.57" y1="251.99" x2="93.17" y2="251.99" stroke="#333" stroke-width="0.9"/>
<line x1="88.57" y1="262.35" x2="93.17" y2="262.35" stroke="#333" stroke-width="0.9"/>
<circle cx="90.87" cy="257.17" r="2.60" fill="#000" stroke="none" stroke-width="1"/>
<line x1="126.45" y1="246.39" x2="126.45" y2="257.44" stroke="#333" stroke-width="0.9"/>
<line x1="124.15" y1="246.39" x2="128.75" y2="246.39" stroke="#333" stroke-width="0.9"/>
<line x1="124.15" y1="257.44" x2="128.75" y2="257.44" stroke="#333" stroke-width="0.9"/>
<circle cx="126.45" cy="251.92" r="2.60" fill="#000" stroke="none" stroke-width="1"/>
<line x1="215.40" y1="239.42" x2="215.40" y2="251.02" stroke="#333" stroke-width="0.9"/>
<line x1="213.10" y1="239.42" x2="217.70" y2="239.42" stroke="#333" stroke-width="0.9"/>
<line x1="213.10" y1="251.02" x2="217.70" y2="251.02" stroke="#333" stroke-width="0.9"/>
<circle cx="215.40" cy="245.22" r="2.60" fill="#000" stroke="none" stroke-width="1"/>
<line x1="37.50" y1="237.48" x2="37.50" y2="249.91" stroke="#333" stroke-width="0.9"/>
<line x1="35.20" y1="237.48" x2="39.80" y2="237.48" stroke="#333" stroke-width="0.9"/>
<line x1="35.20" y1="249.91" x2="39.80" y2="249.91" stroke="#333" stroke-width="0.9"/>
<polygon points="37.50,240.58 40.10,245.78 34.90,245.78" fill="#000"/>
<line x1="55.29" y1="289.63" x2="55.29" y2="302.06" stroke="#333" stroke-width="0.9"/>
<line x1="52.99" y1="289.63" x2="57.59" y2="289.63" stroke="#333" stroke-width="0.9"/>
<line x1="52.99" y1="302.06" x2="57.59" y2="302.06" stroke="#333" stroke-width="0.9"/>
<polygon points="55.29,292.73 57.89,297.93 52.69,297.93" fill="#000"/>
<line x1="90.87" y1="263.04" x2="90.87" y2="272.71" stroke="#333" stroke-width="0.9"/>
<line x1="88.57" y1="263.04" x2="93.17" y2="263.04" stroke="#333" stroke-width="0.9"/>
<line x1="88.57" y1="272.71" x2="93.17" y2="272.71" stroke="#333" stroke-width="0.9"/>
<polygon points="90.87,264.75 93.47,269.95 88.27,269.95" fill="#000"/>
<line x1="126.45" y1="268.22" x2="126.45" y2="278.58" stroke="#333" stroke-width="0.9"/>
<line x1="124.15" y1="268.22" x2="128.75" y2="268.22" stroke="#333" stroke-width="0.9"/>
<line x1="124.15" y1="278.58" x2="128.75" y2="278.58" stroke="#333" stroke-width="0.9"/>
<polygon points="126.45,270.28 129.05,275.48 123.85,275.48" fill="#000"/>
<line x1="215.40" y1="280.37" x2="215.40" y2="290.73" stroke="#333" stroke-width="0.9"/>
<line x1="213.10" y1="280.37" x2="217.70" y2="280.37" stroke="#333" stroke-width="0.9"/>
<line x1="213.10" y1="290.73" x2="217.70" y2="290.73" stroke="#333" stroke-width="0.9"/>
<polygon points="215.40,282.43 218.00,287.63 212.80,287.63" fill="#000"/>
<rect x="119.6" y="295.4" width="84.8" height="23.1" fill="#fff" stroke="#c4c4c4" stroke-width="0.8"/>
<line x1="123.50" y1="302.80" x2="141.50" y2="302.80" stroke="#222" stroke-width="1"/>
<polygon points="132.40,300.04 134.70,302.80 132.40,305.56 130.10,302.80" fill="#000"/>
<text x="143.30" y="306.00" font-size="8.8" font-weight="bold" font-family='"Liberation Sans", sans-serif' fill="#111" stroke="#111" stroke-width="0.25" textLength="58.00" lengthAdjust="spacingAndGlyphs">Gamma Globin</text>
<line x1="123.50" y1="313.20" x2="141.50" y2="313.20" stroke="#222" stroke-width="1"/>
<polygon points="132.40,310.32 134.80,315.12 130.00,315.12" fill="#000"/>
<text x="143.30" y="316.40" font-size="8.8" font-weight="bold" font-family='"Liberation Sans", sans-serif' fill="#111" stroke="#111" stroke-width="0.25" textLength="46.50" lengthAdjust="spacingAndGlyphs">Beta Globin</text>
<text x="287.95" y="203.60" font-size="19" font-weight="bold" font-family='"Liberation Sans", sans-serif' fill="#111" stroke="#111" stroke-width="0.25">D</text>
<line x1="329.50" y1="300.50" x2="500.50" y2="300.50" stroke="#d2d2d2" stroke-width="0.9"/>
<line x1="329.50" y1="286.50" x2="500.50" y2="286.50" stroke="#d2d2d2" stroke-width="0.9"/>
<line x1="329.50" y1="271.50" x2="500.50" y2="271.50" stroke="#d2d2d2" stroke-width="0.9"/>
<line x1="329.50" y1="257.50" x2="500.50" y2="257.50" stroke="#d2d2d2" stroke-width="0.9"/>
<line x1="329.50" y1="242.50" x2="500.50" y2="242.50" stroke="#d2d2d2" stroke-width="0.9"/>
<line x1="329.50" y1="228.50" x2="500.50" y2="228.50" stroke="#d2d2d2" stroke-width="0.9"/>
<line x1="500.50" y1="228.30" x2="500.50" y2="315.00" stroke="#d2d2d2" stroke-width="0.9"/>
<line x1="329.50" y1="228.30" x2="329.50" y2="315.00" stroke="#ababab" stroke-width="1"/>
<line x1="329.50" y1="315.00" x2="500.50" y2="315.00" stroke="#ababab" stroke-width="1"/>
<line x1="327.50" y1="315.00" x2="329.50" y2="315.00" stroke="#ababab" stroke-width="1"/>
<text x="323.70" y="318.00" font-size="8.4" font-weight="bold" font-family='"Liberation Sans", sans-serif' fill="#111" stroke="#111" stroke-width="0.25" text-anchor="end" textLength="16.20" lengthAdjust="spacingAndGlyphs">0.08</text>
<line x1="327.50" y1="300.56" x2="329.50" y2="300.56" stroke="#ababab" stroke-width="1"/>
<text x="323.70" y="303.56" font-size="8.4" font-weight="bold" font-family='"Liberation Sans", sans-serif' fill="#111" stroke="#111" stroke-width="0.25" text-anchor="end" textLength="11.40" lengthAdjust="spacingAndGlyphs">0.1</text>
<line x1="327.50" y1="286.12" x2="329.50" y2="286.12" stroke="#ababab" stroke-width="1"/>
<text x="323.70" y="289.12" font-size="8.4" font-weight="bold" font-family='"Liberation Sans", sans-serif' fill="#111" stroke="#111" stroke-width="0.25" text-anchor="end" textLength="16.20" lengthAdjust="spacingAndGlyphs">0.12</text>
<line x1="327.50" y1="271.68" x2="329.50" y2="271.68" stroke="#ababab" stroke-width="1"/>
<text x="323.70" y="274.68" font-size="8.4" font-weight="bold" font-family='"Liberation Sans", sans-serif' fill="#111" stroke="#111" stroke-width="0.25" text-anchor="end" textLength="16.20" lengthAdjust="spacingAndGlyphs">0.14</text>
<line x1="327.50" y1="257.24" x2="329.50" y2="257.24" stroke="#ababab" stroke-width="1"/>
<text x="323.70" y="260.24" font-size="8.4" font-weight="bold" font-family='"Liberation Sans", sans-serif' fill="#111" stroke="#111" stroke-width="0.25" text-anchor="end" textLength="16.20" lengthAdjust="spacingAndGlyphs">0.16</text>
<line x1="327.50" y1="242.80" x2="329.50" y2="242.80" stroke="#ababab" stroke-width="1"/>
<text x="323.70" y="245.80" font-size="8.4" font-weight="bold" font-family='"Liberation Sans", sans-serif' fill="#111" stroke="#111" stroke-width="0.25" text-anchor="end" textLength="16.20" lengthAdjust="spacingAndGlyphs">0.18</text>
<line x1="327.50" y1="228.36" x2="329.50" y2="228.36" stroke="#ababab" stroke-width="1"/>
<text x="323.70" y="231.36" font-size="8.4" font-weight="bold" font-family='"Liberation Sans", sans-serif' fill="#111" stroke="#111" stroke-width="0.25" text-anchor="end" textLength="11.40" lengthAdjust="spacingAndGlyphs">0.2</text>
<text x="330.00" y="332.30" font-size="8.4" font-weight="bold" font-family='"Liberation Sans", sans-serif' fill="#111" stroke="#111" stroke-width="0.25" text-anchor="middle" textLength="4.30" lengthAdjust="spacingAndGlyphs">0</text>
<text x="362.40" y="332.30" font-size="8.4" font-weight="bold" font-family='"Liberation Sans", sans-serif' fill="#111" stroke="#111" stroke-width="0.25" text-anchor="middle" textLength="13.80" lengthAdjust="spacingAndGlyphs">200</text>
<text x="394.80" y="332.30" font-size="8.4" font-weight="bold" font-family='"Liberation Sans", sans-serif' fill="#111" stroke="#111" stroke-width="0.25" text-anchor="middle" textLength="13.80" lengthAdjust="spacingAndGlyphs">400</text>
<text x="427.20" y="332.30" font-size="8.4" font-weight="bold" font-family='"Liberation Sans", sans-serif' fill="#111" stroke="#111" stroke-width="0.25" text-anchor="middle" textLength="13.80" lengthAdjust="spacingAndGlyphs">600</text>
<text x="459.60" y="332.30" font-size="8.4" font-weight="bold" font-family='"Liberation Sans", sans-serif' fill="#111" stroke="#111" stroke-width="0.25" text-anchor="middle" textLength="13.80" lengthAdjust="spacingAndGlyphs">800</text>
<text x="492.00" y="332.30" font-size="8.4" font-weight="bold" font-family='"Liberation Sans", sans-serif' fill="#111" stroke="#111" stroke-width="0.25" text-anchor="middle" textLength="18.60" lengthAdjust="spacingAndGlyphs">1000</text>
<text x="407.00" y="346.50" font-size="9.0" font-weight="bold" font-family='"Liberation Sans", sans-serif' fill="#111" stroke="#111" stroke-width="0.25" text-anchor="middle" textLength="111.00" lengthAdjust="spacingAndGlyphs">5-Aza Concentration,&#160; nM</text>
<text x="418.20" y="220.80" font-size="8.6" font-weight="bold" font-family='"Liberation Sans", sans-serif' fill="#111" stroke="#111" stroke-width="0.25" text-anchor="middle" textLength="132.50" lengthAdjust="spacingAndGlyphs">5-Aza Dose Response (AUC)</text>
<text x="296.20" y="270.00" font-size="10.5" font-weight="normal" font-family='"Liberation Serif", serif' fill="#111" stroke="#111" stroke-width="0.25" text-anchor="middle" textLength="28.40" lengthAdjust="spacingAndGlyphs" transform="rotate(-90 296.20 270.00)">γ/γ+β</text>
<path d="M330.00,300.56 C332.70,294.90 338.10,273.73 346.20,266.63 C354.30,259.53 367.80,260.49 378.60,257.96 C389.40,255.44 392.10,254.47 411.00,251.46 C429.90,248.46 478.50,241.84 492.00,239.91" fill="none" stroke="#111" stroke-width="1.5"/>
<line x1="330.00" y1="295.86" x2="330.00" y2="305.26" stroke="#222" stroke-width="1"/>
<line x1="327.20" y1="295.86" x2="332.80" y2="295.86" stroke="#222" stroke-width="1"/>
<line x1="327.20" y1="305.26" x2="332.80" y2="305.26" stroke="#222" stroke-width="1"/>
<ellipse cx="330.00" cy="300.56" rx="2.55" ry="3.30" fill="#000"/>
<line x1="346.20" y1="258.63" x2="346.20" y2="274.63" stroke="#222" stroke-width="1"/>
<line x1="343.40" y1="258.63" x2="349.00" y2="258.63" stroke="#222" stroke-width="1"/>
<line x1="343.40" y1="274.63" x2="349.00" y2="274.63" stroke="#222" stroke-width="1"/>
<ellipse cx="346.20" cy="266.63" rx="2.55" ry="3.30" fill="#000"/>
<line x1="378.60" y1="253.16" x2="378.60" y2="262.76" stroke="#222" stroke-width="1"/>
<line x1="375.80" y1="253.16" x2="381.40" y2="253.16" stroke="#222" stroke-width="1"/>
<line x1="375.80" y1="262.76" x2="381.40" y2="262.76" stroke="#222" stroke-width="1"/>
<ellipse cx="378.60" cy="257.96" rx="2.55" ry="3.30" fill="#000"/>
<line x1="411.00" y1="246.26" x2="411.00" y2="256.66" stroke="#222" stroke-width="1"/>
<line x1="408.20" y1="246.26" x2="413.80" y2="246.26" stroke="#222" stroke-width="1"/>
<line x1="408.20" y1="256.66" x2="413.80" y2="256.66" stroke="#222" stroke-width="1"/>
<ellipse cx="411.00" cy="251.46" rx="2.55" ry="3.30" fill="#000"/>
<line x1="492.00" y1="234.01" x2="492.00" y2="245.81" stroke="#222" stroke-width="1"/>
<line x1="489.20" y1="234.01" x2="494.80" y2="234.01" stroke="#222" stroke-width="1"/>
<line x1="489.20" y1="245.81" x2="494.80" y2="245.81" stroke="#222" stroke-width="1"/>
<ellipse cx="492.00" cy="239.91" rx="2.55" ry="3.30" fill="#000"/>
<text x="-1.50" y="384.70" font-size="19" font-weight="bold" font-family='"Liberation Sans", sans-serif' fill="#111" stroke="#111" stroke-width="0.25">E</text>
<line x1="28.50" y1="408.50" x2="254.50" y2="408.50" stroke="#dcdcdc" stroke-width="1"/>
<line x1="254.50" y1="408.50" x2="254.50" y2="511.50" stroke="#dcdcdc" stroke-width="1"/>
<line x1="28.50" y1="408.50" x2="28.50" y2="511.50" stroke="#bdbdbd" stroke-width="1"/>
<line x1="28.50" y1="511.50" x2="254.50" y2="511.50" stroke="#bdbdbd" stroke-width="1"/>
<text x="23.20" y="513.10" font-size="7.4" font-weight="bold" font-family='"Liberation Serif", serif' fill="#111" stroke="#111" stroke-width="0.25" text-anchor="end" textLength="3.90" lengthAdjust="spacingAndGlyphs">0</text>
<text x="23.20" y="492.70" font-size="7.4" font-weight="bold" font-family='"Liberation Serif", serif' fill="#111" stroke="#111" stroke-width="0.25" text-anchor="end" textLength="3.90" lengthAdjust="spacingAndGlyphs">5</text>
<text x="23.20" y="472.30" font-size="7.4" font-weight="bold" font-family='"Liberation Serif", serif' fill="#111" stroke="#111" stroke-width="0.25" text-anchor="end" textLength="6.20" lengthAdjust="spacingAndGlyphs">10</text>
<text x="23.20" y="451.90" font-size="7.4" font-weight="bold" font-family='"Liberation Serif", serif' fill="#111" stroke="#111" stroke-width="0.25" text-anchor="end" textLength="6.20" lengthAdjust="spacingAndGlyphs">15</text>
<text x="23.20" y="431.50" font-size="7.4" font-weight="bold" font-family='"Liberation Serif", serif' fill="#111" stroke="#111" stroke-width="0.25" text-anchor="end" textLength="6.20" lengthAdjust="spacingAndGlyphs">20</text>
<text x="23.20" y="411.10" font-size="7.4" font-weight="bold" font-family='"Liberation Serif", serif' fill="#111" stroke="#111" stroke-width="0.25" text-anchor="end" textLength="6.20" lengthAdjust="spacingAndGlyphs">25</text>
<text x="28.10" y="524.80" font-size="8.0" font-weight="bold" font-family='"Liberation Sans", sans-serif' fill="#111" stroke="#111" stroke-width="0.25" text-anchor="middle" textLength="4.30" lengthAdjust="spacingAndGlyphs">0</text>
<text x="50.76" y="524.80" font-size="8.0" font-weight="bold" font-family='"Liberation Sans", sans-serif' fill="#111" stroke="#111" stroke-width="0.25" text-anchor="middle" textLength="4.30" lengthAdjust="spacingAndGlyphs">2</text>
<text x="73.42" y="524.80" font-size="8.0" font-weight="bold" font-family='"Liberation Sans", sans-serif' fill="#111" stroke="#111" stroke-width="0.25" text-anchor="middle" textLength="4.30" lengthAdjust="spacingAndGlyphs">4</text>
<text x="96.08" y="524.80" font-size="8.0" font-weight="bold" font-family='"Liberation Sans", sans-serif' fill="#111" stroke="#111" stroke-width="0.25" text-anchor="middle" textLength="4.30" lengthAdjust="spacingAndGlyphs">6</text>
<text x="118.74" y="524.80" font-size="8.0" font-weight="bold" font-family='"Liberation Sans", sans-serif' fill="#111" stroke="#111" stroke-width="0.25" text-anchor="middle" textLength="4.30" lengthAdjust="spacingAndGlyphs">8</text>
<text x="141.40" y="524.80" font-size="8.0" font-weight="bold" font-family='"Liberation Sans", sans-serif' fill="#111" stroke="#111" stroke-width="0.25" text-anchor="middle" textLength="8.60" lengthAdjust="spacingAndGlyphs">10</text>
<text x="164.06" y="524.80" font-size="8.0" font-weight="bold" font-family='"Liberation Sans", sans-serif' fill="#111" stroke="#111" stroke-width="0.25" text-anchor="middle" textLength="8.60" lengthAdjust="spacingAndGlyphs">12</text>
<text x="186.72" y="524.80" font-size="8.0" font-weight="bold" font-family='"Liberation Sans", sans-serif' fill="#111" stroke="#111" stroke-width="0.25" text-anchor="middle" textLength="8.60" lengthAdjust="spacingAndGlyphs">14</text>
<text x="209.38" y="524.80" font-size="8.0" font-weight="bold" font-family='"Liberation Sans", sans-serif' fill="#111" stroke="#111" stroke-width="0.25" text-anchor="middle" textLength="8.60" lengthAdjust="spacingAndGlyphs">16</text>
<text x="232.04" y="524.80" font-size="8.0" font-weight="bold" font-family='"Liberation Sans", sans-serif' fill="#111" stroke="#111" stroke-width="0.25" text-anchor="middle" textLength="8.60" lengthAdjust="spacingAndGlyphs">18</text>
<text x="254.70" y="524.80" font-size="8.0" font-weight="bold" font-family='"Liberation Sans", sans-serif' fill="#111" stroke="#111" stroke-width="0.25" text-anchor="middle" textLength="8.60" lengthAdjust="spacingAndGlyphs">20</text>
<text x="141.20" y="535.40" font-size="8.6" font-weight="bold" font-family='"Liberation Sans", sans-serif' fill="#111" stroke="#111" stroke-width="0.25" text-anchor="middle" textLength="58.00" lengthAdjust="spacingAndGlyphs">Day of Culture</text>
<text x="134.85" y="404.00" font-size="9.3" font-weight="bold" font-family='"Liberation Sans", sans-serif' fill="#111" stroke="#111" stroke-width="0.25" text-anchor="middle" textLength="64.50" lengthAdjust="spacingAndGlyphs">Cell Expansion</text>
<text x="10.60" y="458.50" font-size="8.8" font-weight="bold" font-family='"Liberation Sans", sans-serif' fill="#111" stroke="#111" stroke-width="0.25" text-anchor="middle" textLength="66.80" lengthAdjust="spacingAndGlyphs" transform="rotate(-90 10.60 458.50)">Total Cells x 10</text>
<text x="5.60" y="423.40" font-size="5.0" font-weight="bold" font-family='"Liberation Sans", sans-serif' fill="#111" stroke="#111" stroke-width="0.1" text-anchor="middle" transform="rotate(-90 5.60 423.40)">7</text>
<path d="M62.09,510.29 C65.87,510.29 77.20,510.43 84.75,510.29 C92.30,510.16 101.74,509.61 107.41,509.48 C113.08,509.34 113.08,509.95 118.74,509.48 C124.41,509.00 133.85,507.98 141.40,506.62 C148.95,505.26 156.51,503.70 164.06,501.32 C171.61,498.94 179.17,495.33 186.72,492.34 C194.27,489.35 201.83,488.80 209.38,483.36 C216.93,477.92 224.49,471.06 232.04,459.70 C239.59,448.34 250.92,422.64 254.70,415.23" fill="none" stroke="#111" stroke-width="0.9"/>
<circle cx="62.09" cy="510.29" r="2.30" fill="#000" stroke="none" stroke-width="0.9"/>
<circle cx="84.75" cy="510.29" r="2.30" fill="#000" stroke="none" stroke-width="0.9"/>
<circle cx="107.41" cy="509.48" r="2.30" fill="#000" stroke="none" stroke-width="0.9"/>
<circle cx="118.74" cy="509.48" r="2.30" fill="#000" stroke="none" stroke-width="0.9"/>
<circle cx="141.40" cy="506.62" r="2.30" fill="#000" stroke="none" stroke-width="0.9"/>
<circle cx="164.06" cy="501.32" r="2.30" fill="#000" stroke="none" stroke-width="0.9"/>
<circle cx="186.72" cy="492.34" r="2.30" fill="#000" stroke="none" stroke-width="0.9"/>
<circle cx="209.38" cy="483.36" r="2.30" fill="#000" stroke="none" stroke-width="0.9"/>
<circle cx="232.04" cy="459.70" r="2.30" fill="#000" stroke="none" stroke-width="0.9"/>
<circle cx="254.70" cy="415.23" r="2.30" fill="#000" stroke="none" stroke-width="0.9"/>
<line x1="34.50" y1="416.60" x2="48.00" y2="416.60" stroke="#555" stroke-width="1"/>
<circle cx="41.30" cy="416.60" r="2.30" fill="#000" stroke="none" stroke-width="0.9"/>
<text x="77.80" y="419.20" font-size="7.6" font-weight="bold" font-family='"Liberation Serif", serif' fill="#111" stroke="#111" stroke-width="0.25" text-anchor="end" textLength="18.30" lengthAdjust="spacingAndGlyphs">0 nM</text>
<path d="M62.09,510.29 C65.87,510.29 77.20,510.43 84.75,510.29 C92.30,510.16 101.74,509.61 107.41,509.48 C113.08,509.34 113.08,509.95 118.74,509.48 C124.41,509.00 133.85,507.91 141.40,506.62 C148.95,505.33 156.51,504.85 164.06,501.72 C171.61,498.60 179.17,492.61 186.72,487.85 C194.27,483.09 201.83,478.33 209.38,473.16 C216.93,468.00 224.49,464.94 232.04,456.84 C239.59,448.75 250.92,429.98 254.70,424.61" fill="none" stroke="#111" stroke-width="0.9"/>
<circle cx="62.09" cy="510.29" r="1.80" fill="#fff" stroke="#888" stroke-width="0.9"/>
<circle cx="84.75" cy="510.29" r="1.80" fill="#fff" stroke="#888" stroke-width="0.9"/>
<circle cx="107.41" cy="509.48" r="1.80" fill="#fff" stroke="#888" stroke-width="0.9"/>
<circle cx="118.74" cy="509.48" r="1.80" fill="#fff" stroke="#888" stroke-width="0.9"/>
<circle cx="141.40" cy="506.62" r="1.80" fill="#fff" stroke="#888" stroke-width="0.9"/>
<circle cx="164.06" cy="501.72" r="1.80" fill="#fff" stroke="#888" stroke-width="0.9"/>
<circle cx="186.72" cy="487.85" r="1.80" fill="#fff" stroke="#888" stroke-width="0.9"/>
<circle cx="209.38" cy="473.16" r="1.80" fill="#fff" stroke="#888" stroke-width="0.9"/>
<circle cx="232.04" cy="456.84" r="1.80" fill="#fff" stroke="#888" stroke-width="0.9"/>
<circle cx="254.70" cy="424.61" r="1.80" fill="#fff" stroke="#888" stroke-width="0.9"/>
<line x1="34.50" y1="427.70" x2="48.00" y2="427.70" stroke="#999" stroke-width="1"/>
<circle cx="41.30" cy="427.70" r="1.80" fill="#fff" stroke="#888" stroke-width="0.9"/>
<text x="77.80" y="430.30" font-size="7.6" font-weight="bold" font-family='"Liberation Serif", serif' fill="#111" stroke="#111" stroke-width="0.25" text-anchor="end" textLength="25.50" lengthAdjust="spacingAndGlyphs">100 nM</text>
<path d="M62.09,510.29 C65.87,510.29 77.20,510.43 84.75,510.29 C92.30,510.16 101.74,509.61 107.41,509.48 C113.08,509.34 113.08,509.95 118.74,509.48 C124.41,509.00 133.85,507.78 141.40,506.62 C148.95,505.46 156.51,504.65 164.06,502.54 C171.61,500.43 179.17,499.34 186.72,493.97 C194.27,488.60 201.83,476.02 209.38,470.31 C216.93,464.60 224.49,464.87 232.04,459.70 C239.59,454.53 250.92,442.70 254.70,439.30" fill="none" stroke="#111" stroke-width="0.9"/>
<circle cx="62.09" cy="510.29" r="1.80" fill="#000" stroke="none" stroke-width="0.9"/>
<circle cx="84.75" cy="510.29" r="1.80" fill="#000" stroke="none" stroke-width="0.9"/>
<circle cx="107.41" cy="509.48" r="1.80" fill="#000" stroke="none" stroke-width="0.9"/>
<circle cx="118.74" cy="509.48" r="1.80" fill="#000" stroke="none" stroke-width="0.9"/>
<circle cx="141.40" cy="506.62" r="1.80" fill="#000" stroke="none" stroke-width="0.9"/>
<circle cx="164.06" cy="502.54" r="1.80" fill="#000" stroke="none" stroke-width="0.9"/>
<circle cx="186.72" cy="493.97" r="1.80" fill="#000" stroke="none" stroke-width="0.9"/>
<circle cx="209.38" cy="470.31" r="1.80" fill="#000" stroke="none" stroke-width="0.9"/>
<circle cx="232.04" cy="459.70" r="1.80" fill="#000" stroke="none" stroke-width="0.9"/>
<circle cx="254.70" cy="439.30" r="1.80" fill="#000" stroke="none" stroke-width="0.9"/>
<line x1="34.50" y1="438.90" x2="48.00" y2="438.90" stroke="#555" stroke-width="1"/>
<circle cx="41.30" cy="438.90" r="1.80" fill="#000" stroke="none" stroke-width="0.9"/>
<text x="77.80" y="441.50" font-size="7.6" font-weight="bold" font-family='"Liberation Serif", serif' fill="#111" stroke="#111" stroke-width="0.25" text-anchor="end" textLength="25.50" lengthAdjust="spacingAndGlyphs">300 nM</text>
<path d="M62.09,510.29 C65.87,510.29 77.20,510.43 84.75,510.29 C92.30,510.16 101.74,509.61 107.41,509.48 C113.08,509.34 113.08,509.95 118.74,509.48 C124.41,509.00 133.85,507.78 141.40,506.62 C148.95,505.46 156.51,504.44 164.06,502.54 C171.61,500.64 179.17,497.37 186.72,495.20 C194.27,493.02 201.83,492.88 209.38,489.48 C216.93,486.08 224.49,483.16 232.04,474.80 C239.59,466.43 250.92,445.22 254.70,439.30" fill="none" stroke="#111" stroke-width="0.9"/>
<polygon points="62.09,507.89 64.09,510.29 62.09,512.69 60.09,510.29" fill="#000"/>
<polygon points="84.75,507.89 86.75,510.29 84.75,512.69 82.75,510.29" fill="#000"/>
<polygon points="107.41,507.08 109.41,509.48 107.41,511.88 105.41,509.48" fill="#000"/>
<polygon points="118.74,507.08 120.74,509.48 118.74,511.88 116.74,509.48" fill="#000"/>
<polygon points="141.40,504.22 143.40,506.62 141.40,509.02 139.40,506.62" fill="#000"/>
<polygon points="164.06,500.14 166.06,502.54 164.06,504.94 162.06,502.54" fill="#000"/>
<polygon points="186.72,492.80 188.72,495.20 186.72,497.60 184.72,495.20" fill="#000"/>
<polygon points="209.38,487.08 211.38,489.48 209.38,491.88 207.38,489.48" fill="#000"/>
<polygon points="232.04,472.40 234.04,474.80 232.04,477.20 230.04,474.80" fill="#000"/>
<polygon points="254.70,436.90 256.70,439.30 254.70,441.70 252.70,439.30" fill="#000"/>
<line x1="34.50" y1="450.60" x2="48.00" y2="450.60" stroke="#555" stroke-width="1"/>
<polygon points="41.30,448.20 43.30,450.60 41.30,453.00 39.30,450.60" fill="#000"/>
<text x="77.80" y="453.20" font-size="7.6" font-weight="bold" font-family='"Liberation Serif", serif' fill="#111" stroke="#111" stroke-width="0.25" text-anchor="end" textLength="25.50" lengthAdjust="spacingAndGlyphs">500 nM</text>
<path d="M62.09,510.29 C65.87,510.29 77.20,510.43 84.75,510.29 C92.30,510.16 101.74,509.61 107.41,509.48 C113.08,509.34 113.08,509.95 118.74,509.48 C124.41,509.00 133.85,507.71 141.40,506.62 C148.95,505.53 156.51,504.65 164.06,502.95 C171.61,501.25 179.17,498.19 186.72,496.42 C194.27,494.65 201.83,494.72 209.38,492.34 C216.93,489.96 224.49,487.58 232.04,482.14 C239.59,476.70 250.92,463.44 254.70,459.70" fill="none" stroke="#111" stroke-width="0.9"/>
<path d="M60.09,508.29 L64.09,512.29 M64.09,508.29 L60.09,512.29 M60.09,510.29 L64.09,510.29" stroke="#000" stroke-width="0.9" fill="none"/>
<path d="M82.75,508.29 L86.75,512.29 M86.75,508.29 L82.75,512.29 M82.75,510.29 L86.75,510.29" stroke="#000" stroke-width="0.9" fill="none"/>
<path d="M105.41,507.48 L109.41,511.48 M109.41,507.48 L105.41,511.48 M105.41,509.48 L109.41,509.48" stroke="#000" stroke-width="0.9" fill="none"/>
<path d="M116.74,507.48 L120.74,511.48 M120.74,507.48 L116.74,511.48 M116.74,509.48 L120.74,509.48" stroke="#000" stroke-width="0.9" fill="none"/>
<path d="M139.40,504.62 L143.40,508.62 M143.40,504.62 L139.40,508.62 M139.40,506.62 L143.40,506.62" stroke="#000" stroke-width="0.9" fill="none"/>
<path d="M162.06,500.95 L166.06,504.95 M166.06,500.95 L162.06,504.95 M162.06,502.95 L166.06,502.95" stroke="#000" stroke-width="0.9" fill="none"/>
<path d="M184.72,494.42 L188.72,498.42 M188.72,494.42 L184.72,498.42 M184.72,496.42 L188.72,496.42" stroke="#000" stroke-width="0.9" fill="none"/>
<path d="M207.38,490.34 L211.38,494.34 M211.38,490.34 L207.38,494.34 M207.38,492.34 L211.38,492.34" stroke="#000" stroke-width="0.9" fill="none"/>
<path d="M230.04,480.14 L234.04,484.14 M234.04,480.14 L230.04,484.14 M230.04,482.14 L234.04,482.14" stroke="#000" stroke-width="0.9" fill="none"/>
<path d="M252.70,457.70 L256.70,461.70 M256.70,457.70 L252.70,461.70 M252.70,459.70 L256.70,459.70" stroke="#000" stroke-width="0.9" fill="none"/>
<line x1="34.50" y1="462.40" x2="48.00" y2="462.40" stroke="#555" stroke-width="1"/>
<path d="M39.30,460.40 L43.30,464.40 M43.30,460.40 L39.30,464.40 M39.30,462.40 L43.30,462.40" stroke="#000" stroke-width="0.9" fill="none"/>
<text x="77.80" y="465.00" font-size="7.6" font-weight="bold" font-family='"Liberation Serif", serif' fill="#111" stroke="#111" stroke-width="0.25" text-anchor="end" textLength="29.50" lengthAdjust="spacingAndGlyphs">1000 nM</text>
<polyline points="62.09,510.29 84.75,510.29 107.41,509.48 118.74,509.48" fill="none" stroke="#000" stroke-width="1.6" stroke-linejoin="round"/>
<text x="287.75" y="384.70" font-size="19" font-weight="bold" font-family='"Liberation Sans", sans-serif' fill="#111" stroke="#111" stroke-width="0.25" textLength="10.80" lengthAdjust="spacingAndGlyphs">F</text>
<line x1="316.50" y1="410.50" x2="504.50" y2="410.50" stroke="#dcdcdc" stroke-width="1"/>
<line x1="504.50" y1="410.50" x2="504.50" y2="510.50" stroke="#dcdcdc" stroke-width="1"/>
<line x1="316.50" y1="410.50" x2="316.50" y2="510.50" stroke="#bdbdbd" stroke-width="1"/>
<line x1="316.50" y1="510.50" x2="504.50" y2="510.50" stroke="#bdbdbd" stroke-width="1"/>
<text x="312.60" y="513.00" font-size="7.4" font-weight="bold" font-family='"Liberation Serif", serif' fill="#111" stroke="#111" stroke-width="0.25" text-anchor="end" textLength="3.60" lengthAdjust="spacingAndGlyphs">0</text>
<text x="312.60" y="493.90" font-size="7.4" font-weight="bold" font-family='"Liberation Serif", serif' fill="#111" stroke="#111" stroke-width="0.25" text-anchor="end" textLength="6.80" lengthAdjust="spacingAndGlyphs">20</text>
<text x="312.60" y="474.80" font-size="7.4" font-weight="bold" font-family='"Liberation Serif", serif' fill="#111" stroke="#111" stroke-width="0.25" text-anchor="end" textLength="6.80" lengthAdjust="spacingAndGlyphs">40</text>
<text x="312.60" y="455.70" font-size="7.4" font-weight="bold" font-family='"Liberation Serif", serif' fill="#111" stroke="#111" stroke-width="0.25" text-anchor="end" textLength="6.80" lengthAdjust="spacingAndGlyphs">60</text>
<text x="312.60" y="436.60" font-size="7.4" font-weight="bold" font-family='"Liberation Serif", serif' fill="#111" stroke="#111" stroke-width="0.25" text-anchor="end" textLength="6.80" lengthAdjust="spacingAndGlyphs">80</text>
<text x="312.60" y="417.50" font-size="7.4" font-weight="bold" font-family='"Liberation Serif", serif' fill="#111" stroke="#111" stroke-width="0.25" text-anchor="end" textLength="10.00" lengthAdjust="spacingAndGlyphs">100</text>
<text x="317.20" y="523.00" font-size="7.8" font-weight="bold" font-family='"Liberation Serif", serif' fill="#777" stroke="#777" stroke-width="0.25" text-anchor="middle" textLength="3.80" lengthAdjust="spacingAndGlyphs">0</text>
<text x="336.28" y="523.00" font-size="7.8" font-weight="bold" font-family='"Liberation Serif", serif' fill="#111" stroke="#111" stroke-width="0.25" text-anchor="middle" textLength="3.80" lengthAdjust="spacingAndGlyphs">2</text>
<text x="355.36" y="523.00" font-size="7.8" font-weight="bold" font-family='"Liberation Serif", serif' fill="#111" stroke="#111" stroke-width="0.25" text-anchor="middle" textLength="3.80" lengthAdjust="spacingAndGlyphs">4</text>
<text x="374.44" y="523.00" font-size="7.8" font-weight="bold" font-family='"Liberation Serif", serif' fill="#111" stroke="#111" stroke-width="0.25" text-anchor="middle" textLength="3.80" lengthAdjust="spacingAndGlyphs">6</text>
<text x="393.52" y="523.00" font-size="7.8" font-weight="bold" font-family='"Liberation Serif", serif' fill="#111" stroke="#111" stroke-width="0.25" text-anchor="middle" textLength="3.80" lengthAdjust="spacingAndGlyphs">8</text>
<text x="412.60" y="523.00" font-size="7.8" font-weight="bold" font-family='"Liberation Serif", serif' fill="#111" stroke="#111" stroke-width="0.25" text-anchor="middle" textLength="7.20" lengthAdjust="spacingAndGlyphs">10</text>
<text x="431.68" y="523.00" font-size="7.8" font-weight="bold" font-family='"Liberation Serif", serif' fill="#111" stroke="#111" stroke-width="0.25" text-anchor="middle" textLength="7.20" lengthAdjust="spacingAndGlyphs">12</text>
<text x="450.76" y="523.00" font-size="7.8" font-weight="bold" font-family='"Liberation Serif", serif' fill="#111" stroke="#111" stroke-width="0.25" text-anchor="middle" textLength="7.20" lengthAdjust="spacingAndGlyphs">14</text>
<text x="469.84" y="523.00" font-size="7.8" font-weight="bold" font-family='"Liberation Serif", serif' fill="#111" stroke="#111" stroke-width="0.25" text-anchor="middle" textLength="7.20" lengthAdjust="spacingAndGlyphs">16</text>
<text x="488.92" y="523.00" font-size="7.8" font-weight="bold" font-family='"Liberation Serif", serif' fill="#111" stroke="#111" stroke-width="0.25" text-anchor="middle" textLength="7.20" lengthAdjust="spacingAndGlyphs">18</text>
<text x="508.00" y="523.00" font-size="7.8" font-weight="bold" font-family='"Liberation Serif", serif' fill="#111" stroke="#111" stroke-width="0.25" text-anchor="middle" textLength="7.20" lengthAdjust="spacingAndGlyphs">20</text>
<text x="412.00" y="532.70" font-size="8.6" font-weight="bold" font-family='"Liberation Sans", sans-serif' fill="#111" stroke="#111" stroke-width="0.25" text-anchor="middle" textLength="53.80" lengthAdjust="spacingAndGlyphs">Day of Culture</text>
<text x="414.10" y="404.90" font-size="8.6" font-weight="bold" font-family='"Liberation Sans", sans-serif' fill="#111" stroke="#111" stroke-width="0.25" text-anchor="middle" textLength="76.00" lengthAdjust="spacingAndGlyphs">Erythroid Maturation</text>
<text x="297.60" y="461.50" font-size="9.0" font-weight="bold" font-family='"Liberation Serif", serif' fill="#111" stroke="#111" stroke-width="0.25" text-anchor="middle" textLength="58.00" lengthAdjust="spacingAndGlyphs" transform="rotate(-90 297.60 461.50)">% CD235a+</text>
<polyline points="336.28,507.53 383.98,493.21 441.22,463.60 498.46,441.64" fill="none" stroke="#111" stroke-width="0.9" stroke-linejoin="round"/>
<circle cx="336.28" cy="507.53" r="2.40" fill="#000" stroke="none" stroke-width="1"/>
<circle cx="383.98" cy="493.21" r="2.40" fill="#000" stroke="none" stroke-width="1"/>
<circle cx="441.22" cy="463.60" r="2.40" fill="#000" stroke="none" stroke-width="1"/>
<circle cx="498.46" cy="441.64" r="2.40" fill="#000" stroke="none" stroke-width="1"/>
<line x1="320.80" y1="417.20" x2="327.70" y2="417.20" stroke="#333" stroke-width="0.9"/>
<circle cx="324.20" cy="417.20" r="2.40" fill="#000" stroke="none" stroke-width="1"/>
<text x="355.00" y="419.80" font-size="7.8" font-weight="bold" font-family='"Liberation Serif", serif' fill="#111" stroke="#111" stroke-width="0.25" text-anchor="end" textLength="16.50" lengthAdjust="spacingAndGlyphs">0 nM</text>
<polyline points="336.28,507.06 383.98,493.21 441.22,450.62 498.46,447.75" fill="none" stroke="#111" stroke-width="0.9" stroke-linejoin="round"/>
<circle cx="336.28" cy="507.06" r="1.50" fill="#000" stroke="none" stroke-width="1"/>
<circle cx="383.98" cy="493.21" r="1.50" fill="#000" stroke="none" stroke-width="1"/>
<circle cx="441.22" cy="450.62" r="1.50" fill="#000" stroke="none" stroke-width="1"/>
<circle cx="498.46" cy="447.75" r="1.50" fill="#000" stroke="none" stroke-width="1"/>
<line x1="320.80" y1="428.00" x2="327.70" y2="428.00" stroke="#333" stroke-width="0.9"/>
<circle cx="324.20" cy="428.00" r="1.50" fill="#000" stroke="none" stroke-width="1"/>
<text x="355.00" y="430.60" font-size="7.8" font-weight="bold" font-family='"Liberation Serif", serif' fill="#111" stroke="#111" stroke-width="0.25" text-anchor="end" textLength="23.00" lengthAdjust="spacingAndGlyphs">100 nM</text>
<polyline points="336.28,508.01 383.98,494.16 441.22,466.57 498.46,435.91" fill="none" stroke="#111" stroke-width="0.9" stroke-linejoin="round"/>
<circle cx="336.28" cy="508.01" r="1.50" fill="#000" stroke="none" stroke-width="1"/>
<circle cx="383.98" cy="494.16" r="1.50" fill="#000" stroke="none" stroke-width="1"/>
<circle cx="441.22" cy="466.57" r="1.50" fill="#000" stroke="none" stroke-width="1"/>
<circle cx="498.46" cy="435.91" r="1.50" fill="#000" stroke="none" stroke-width="1"/>
<line x1="320.80" y1="438.60" x2="327.70" y2="438.60" stroke="#333" stroke-width="0.9"/>
<circle cx="324.20" cy="438.60" r="1.50" fill="#000" stroke="none" stroke-width="1"/>
<text x="355.00" y="441.20" font-size="7.8" font-weight="bold" font-family='"Liberation Serif", serif' fill="#111" stroke="#111" stroke-width="0.25" text-anchor="end" textLength="23.00" lengthAdjust="spacingAndGlyphs">300 nM</text>
<polyline points="336.28,507.53 383.98,493.69 441.22,460.74 498.46,443.55" fill="none" stroke="#111" stroke-width="0.9" stroke-linejoin="round"/>
<circle cx="336.28" cy="507.53" r="1.50" fill="#000" stroke="none" stroke-width="1"/>
<circle cx="383.98" cy="493.69" r="1.50" fill="#000" stroke="none" stroke-width="1"/>
<circle cx="441.22" cy="460.74" r="1.50" fill="#000" stroke="none" stroke-width="1"/>
<circle cx="498.46" cy="443.55" r="1.50" fill="#000" stroke="none" stroke-width="1"/>
<line x1="320.80" y1="448.60" x2="327.70" y2="448.60" stroke="#333" stroke-width="0.9"/>
<circle cx="324.20" cy="448.60" r="1.50" fill="#000" stroke="none" stroke-width="1"/>
<text x="355.00" y="451.20" font-size="7.8" font-weight="bold" font-family='"Liberation Serif", serif' fill="#111" stroke="#111" stroke-width="0.25" text-anchor="end" textLength="23.00" lengthAdjust="spacingAndGlyphs">500 nM</text>
<polyline points="336.28,506.58 383.98,494.64 441.22,457.88 498.46,442.59" fill="none" stroke="#111" stroke-width="0.9" stroke-linejoin="round"/>
<circle cx="336.28" cy="506.58" r="1.30" fill="#000" stroke="none" stroke-width="1"/>
<circle cx="383.98" cy="494.64" r="1.30" fill="#000" stroke="none" stroke-width="1"/>
<circle cx="441.22" cy="457.88" r="1.30" fill="#000" stroke="none" stroke-width="1"/>
<circle cx="498.46" cy="442.59" r="1.30" fill="#000" stroke="none" stroke-width="1"/>
<line x1="320.80" y1="459.10" x2="327.70" y2="459.10" stroke="#333" stroke-width="0.9"/>
<circle cx="324.20" cy="459.10" r="1.30" fill="#000" stroke="none" stroke-width="1"/>
<text x="355.00" y="461.70" font-size="7.8" font-weight="bold" font-family='"Liberation Serif", serif' fill="#111" stroke="#111" stroke-width="0.25" text-anchor="end" textLength="26.30" lengthAdjust="spacingAndGlyphs">1000 nM</text>
<text x="0.10" y="573.40" font-size="19" font-weight="bold" font-family='"Liberation Sans", sans-serif' fill="#111" stroke="#111" stroke-width="0.25">G</text>
<line x1="32.50" y1="675.50" x2="232.50" y2="675.50" stroke="#c4c4c4" stroke-width="0.8"/>
<line x1="32.50" y1="655.50" x2="232.50" y2="655.50" stroke="#c4c4c4" stroke-width="0.8"/>
<line x1="32.50" y1="635.50" x2="232.50" y2="635.50" stroke="#c4c4c4" stroke-width="0.8"/>
<line x1="32.50" y1="615.50" x2="232.50" y2="615.50" stroke="#c4c4c4" stroke-width="0.8"/>
<line x1="32.50" y1="595.50" x2="232.50" y2="595.50" stroke="#c4c4c4" stroke-width="0.8"/>
<line x1="232.50" y1="596.00" x2="232.50" y2="695.30" stroke="#c4c4c4" stroke-width="0.8"/>
<line x1="32.50" y1="596.00" x2="32.50" y2="695.30" stroke="#ababab" stroke-width="1"/>
<line x1="32.50" y1="695.30" x2="232.50" y2="695.30" stroke="#ababab" stroke-width="1"/>
<line x1="30.50" y1="695.30" x2="32.50" y2="695.30" stroke="#ababab" stroke-width="1"/>
<text x="28.00" y="697.60" font-size="6.4" font-weight="bold" font-family='"Liberation Sans", sans-serif' fill="#111" stroke="#111" stroke-width="0.25" text-anchor="end" textLength="4.00" lengthAdjust="spacingAndGlyphs">0</text>
<line x1="30.50" y1="675.35" x2="32.50" y2="675.35" stroke="#ababab" stroke-width="1"/>
<text x="28.00" y="677.65" font-size="6.4" font-weight="bold" font-family='"Liberation Sans", sans-serif' fill="#111" stroke="#111" stroke-width="0.25" text-anchor="end" textLength="7.80" lengthAdjust="spacingAndGlyphs">20</text>
<line x1="30.50" y1="655.40" x2="32.50" y2="655.40" stroke="#ababab" stroke-width="1"/>
<text x="28.00" y="657.70" font-size="6.4" font-weight="bold" font-family='"Liberation Sans", sans-serif' fill="#111" stroke="#111" stroke-width="0.25" text-anchor="end" textLength="7.80" lengthAdjust="spacingAndGlyphs">40</text>
<line x1="30.50" y1="635.45" x2="32.50" y2="635.45" stroke="#ababab" stroke-width="1"/>
<text x="28.00" y="637.75" font-size="6.4" font-weight="bold" font-family='"Liberation Sans", sans-serif' fill="#111" stroke="#111" stroke-width="0.25" text-anchor="end" textLength="7.80" lengthAdjust="spacingAndGlyphs">60</text>
<line x1="30.50" y1="615.50" x2="32.50" y2="615.50" stroke="#ababab" stroke-width="1"/>
<text x="28.00" y="617.80" font-size="6.4" font-weight="bold" font-family='"Liberation Sans", sans-serif' fill="#111" stroke="#111" stroke-width="0.25" text-anchor="end" textLength="7.80" lengthAdjust="spacingAndGlyphs">80</text>
<line x1="30.50" y1="595.55" x2="32.50" y2="595.55" stroke="#ababab" stroke-width="1"/>
<text x="28.00" y="597.85" font-size="6.4" font-weight="bold" font-family='"Liberation Sans", sans-serif' fill="#111" stroke="#111" stroke-width="0.25" text-anchor="end" textLength="11.60" lengthAdjust="spacingAndGlyphs">100</text>
<text x="32.90" y="707.00" font-size="6.4" font-weight="bold" font-family='"Liberation Sans", sans-serif' fill="#111" stroke="#111" stroke-width="0.25" text-anchor="middle" textLength="4.00" lengthAdjust="spacingAndGlyphs">0</text>
<text x="52.90" y="707.00" font-size="6.4" font-weight="bold" font-family='"Liberation Sans", sans-serif' fill="#111" stroke="#111" stroke-width="0.25" text-anchor="middle" textLength="4.00" lengthAdjust="spacingAndGlyphs">2</text>
<text x="72.90" y="707.00" font-size="6.4" font-weight="bold" font-family='"Liberation Sans", sans-serif' fill="#111" stroke="#111" stroke-width="0.25" text-anchor="middle" textLength="4.00" lengthAdjust="spacingAndGlyphs">4</text>
<text x="92.90" y="707.00" font-size="6.4" font-weight="bold" font-family='"Liberation Sans", sans-serif' fill="#111" stroke="#111" stroke-width="0.25" text-anchor="middle" textLength="4.00" lengthAdjust="spacingAndGlyphs">6</text>
<text x="112.90" y="707.00" font-size="6.4" font-weight="bold" font-family='"Liberation Sans", sans-serif' fill="#111" stroke="#111" stroke-width="0.25" text-anchor="middle" textLength="4.00" lengthAdjust="spacingAndGlyphs">8</text>
<text x="132.90" y="707.00" font-size="6.4" font-weight="bold" font-family='"Liberation Sans", sans-serif' fill="#111" stroke="#111" stroke-width="0.25" text-anchor="middle" textLength="7.80" lengthAdjust="spacingAndGlyphs">10</text>
<text x="152.90" y="707.00" font-size="6.4" font-weight="bold" font-family='"Liberation Sans", sans-serif' fill="#111" stroke="#111" stroke-width="0.25" text-anchor="middle" textLength="7.80" lengthAdjust="spacingAndGlyphs">12</text>
<text x="172.90" y="707.00" font-size="6.4" font-weight="bold" font-family='"Liberation Sans", sans-serif' fill="#111" stroke="#111" stroke-width="0.25" text-anchor="middle" textLength="7.80" lengthAdjust="spacingAndGlyphs">14</text>
<text x="192.90" y="707.00" font-size="6.4" font-weight="bold" font-family='"Liberation Sans", sans-serif' fill="#111" stroke="#111" stroke-width="0.25" text-anchor="middle" textLength="7.80" lengthAdjust="spacingAndGlyphs">16</text>
<text x="212.90" y="707.00" font-size="6.4" font-weight="bold" font-family='"Liberation Sans", sans-serif' fill="#111" stroke="#111" stroke-width="0.25" text-anchor="middle" textLength="7.80" lengthAdjust="spacingAndGlyphs">18</text>
<text x="232.90" y="707.00" font-size="6.4" font-weight="bold" font-family='"Liberation Sans", sans-serif' fill="#111" stroke="#111" stroke-width="0.25" text-anchor="middle" textLength="7.80" lengthAdjust="spacingAndGlyphs">20</text>
<text x="132.50" y="717.40" font-size="8.4" font-weight="bold" font-family='"Liberation Sans", sans-serif' fill="#111" stroke="#111" stroke-width="0.25" text-anchor="middle" textLength="55.00" lengthAdjust="spacingAndGlyphs">Day of Culture</text>
<text x="131.90" y="591.20" font-size="8.4" font-weight="bold" font-family='"Liberation Sans", sans-serif' fill="#111" stroke="#111" stroke-width="0.25" text-anchor="middle" textLength="108.70" lengthAdjust="spacingAndGlyphs">Percent of Cells in G1 Phase</text>
<text x="7.90" y="647.20" font-size="8.6" font-weight="bold" font-family='"Liberation Sans", sans-serif' fill="#111" stroke="#111" stroke-width="0.25" text-anchor="middle" textLength="70.00" lengthAdjust="spacingAndGlyphs" transform="rotate(-90 7.90 647.20)">% of Cells in G1</text>
<rect x="35.8" y="599.6" width="69.6" height="31.1" fill="#fff" stroke="#cfcfcf" stroke-width="0.8"/>
<path d="M92.90,648.22 C96.23,645.52 106.23,633.94 112.90,632.06 C119.57,630.18 127.90,633.70 132.90,636.95 C137.90,640.19 137.90,653.50 142.90,651.51 C147.90,649.51 156.23,632.14 162.90,624.98 C169.57,617.81 176.23,611.76 182.90,608.52 C189.57,605.28 196.23,602.58 202.90,605.52 C209.57,608.47 219.57,622.73 222.90,626.17" fill="none" stroke="#111" stroke-width="1.3"/>
<ellipse cx="92.90" cy="648.22" rx="1.95" ry="2.53" fill="#000"/>
<ellipse cx="112.90" cy="632.06" rx="1.95" ry="2.53" fill="#000"/>
<ellipse cx="132.90" cy="636.95" rx="1.95" ry="2.53" fill="#000"/>
<ellipse cx="142.90" cy="651.51" rx="1.95" ry="2.53" fill="#000"/>
<ellipse cx="162.90" cy="624.98" rx="1.95" ry="2.53" fill="#000"/>
<ellipse cx="182.90" cy="608.52" rx="1.95" ry="2.53" fill="#000"/>
<ellipse cx="202.90" cy="605.52" rx="1.95" ry="2.53" fill="#000"/>
<ellipse cx="222.90" cy="626.17" rx="1.95" ry="2.53" fill="#000"/>
<line x1="37.70" y1="605.50" x2="56.90" y2="605.50" stroke="#999" stroke-width="1.0"/>
<circle cx="48.20" cy="605.50" r="2.00" fill="#000" stroke="none" stroke-width="1"/>
<text x="58.90" y="608.10" font-size="7.4" font-weight="bold" font-family='"Liberation Sans", sans-serif' fill="#111" stroke="#111" stroke-width="0.25" textLength="36.00" lengthAdjust="spacingAndGlyphs">0 nM 5-Aza</text>
<path d="M112.90,632.06 C116.23,633.29 127.90,636.95 132.90,639.44 C137.90,641.93 137.90,648.68 142.90,647.02 C147.90,645.36 156.23,635.55 162.90,629.46 C169.57,623.38 176.23,614.25 182.90,610.51 C189.57,606.77 196.23,604.03 202.90,607.02 C209.57,610.01 219.57,624.89 222.90,628.47" fill="none" stroke="#111" stroke-width="1.0" stroke-dasharray="1,1.2"/>
<ellipse cx="112.90" cy="632.06" rx="1.95" ry="2.53" fill="#000"/>
<ellipse cx="132.90" cy="639.44" rx="1.95" ry="2.53" fill="#000"/>
<ellipse cx="142.90" cy="647.02" rx="1.95" ry="2.53" fill="#000"/>
<ellipse cx="162.90" cy="629.46" rx="1.95" ry="2.53" fill="#000"/>
<ellipse cx="182.90" cy="610.51" rx="1.95" ry="2.53" fill="#000"/>
<ellipse cx="202.90" cy="607.02" rx="1.95" ry="2.53" fill="#000"/>
<ellipse cx="222.90" cy="628.47" rx="1.95" ry="2.53" fill="#000"/>
<line x1="37.70" y1="615.80" x2="56.90" y2="615.80" stroke="#999" stroke-width="1.0" stroke-dasharray="1,1.2"/>
<circle cx="48.20" cy="615.80" r="2.00" fill="#000" stroke="none" stroke-width="1"/>
<text x="58.90" y="618.40" font-size="7.4" font-weight="bold" font-family='"Liberation Sans", sans-serif' fill="#111" stroke="#111" stroke-width="0.25" textLength="43.40" lengthAdjust="spacingAndGlyphs">300 nM 5-Aza</text>
<path d="M112.90,632.46 C116.23,633.37 127.90,635.12 132.90,637.94 C137.90,640.77 137.90,651.16 142.90,649.41 C147.90,647.67 156.23,634.20 162.90,627.47 C169.57,620.74 176.23,612.26 182.90,609.02 C189.57,605.77 196.23,604.94 202.90,608.02 C209.57,611.09 219.57,624.23 222.90,627.47" fill="none" stroke="#111" stroke-width="1.0" stroke-dasharray="2.5,1.5"/>
<ellipse cx="112.90" cy="632.46" rx="1.95" ry="2.53" fill="#000"/>
<ellipse cx="132.90" cy="637.94" rx="1.95" ry="2.53" fill="#000"/>
<ellipse cx="142.90" cy="649.41" rx="1.95" ry="2.53" fill="#000"/>
<ellipse cx="162.90" cy="627.47" rx="1.95" ry="2.53" fill="#000"/>
<ellipse cx="182.90" cy="609.02" rx="1.95" ry="2.53" fill="#000"/>
<ellipse cx="202.90" cy="608.02" rx="1.95" ry="2.53" fill="#000"/>
<ellipse cx="222.90" cy="627.47" rx="1.95" ry="2.53" fill="#000"/>
<line x1="37.70" y1="626.10" x2="56.90" y2="626.10" stroke="#999" stroke-width="1.0" stroke-dasharray="2.5,1.5"/>
<polygon points="48.20,623.70 50.20,626.10 48.20,628.50 46.20,626.10" fill="#000"/>
<text x="58.90" y="628.70" font-size="7.4" font-weight="bold" font-family='"Liberation Sans", sans-serif' fill="#111" stroke="#111" stroke-width="0.25" textLength="43.40" lengthAdjust="spacingAndGlyphs">500 nM 5-Aza</text>
<text x="288.45" y="573.50" font-size="19" font-weight="bold" font-family='"Liberation Sans", sans-serif' fill="#111" stroke="#111" stroke-width="0.25">H</text>
<line x1="315.50" y1="674.50" x2="515.50" y2="674.50" stroke="#c4c4c4" stroke-width="0.8"/>
<line x1="315.50" y1="654.50" x2="515.50" y2="654.50" stroke="#c4c4c4" stroke-width="0.8"/>
<line x1="315.50" y1="634.50" x2="515.50" y2="634.50" stroke="#c4c4c4" stroke-width="0.8"/>
<line x1="315.50" y1="615.50" x2="515.50" y2="615.50" stroke="#c4c4c4" stroke-width="0.8"/>
<line x1="315.50" y1="595.50" x2="515.50" y2="595.50" stroke="#c4c4c4" stroke-width="0.8"/>
<line x1="515.50" y1="595.00" x2="515.50" y2="694.20" stroke="#c4c4c4" stroke-width="0.8"/>
<line x1="315.50" y1="595.00" x2="315.50" y2="694.20" stroke="#ababab" stroke-width="1"/>
<line x1="315.50" y1="694.20" x2="515.50" y2="694.20" stroke="#ababab" stroke-width="1"/>
<line x1="313.50" y1="694.20" x2="315.50" y2="694.20" stroke="#ababab" stroke-width="1"/>
<text x="310.30" y="696.80" font-size="7.2" font-weight="bold" font-family='"Liberation Sans", sans-serif' fill="#111" stroke="#111" stroke-width="0.25" text-anchor="end" textLength="3.80" lengthAdjust="spacingAndGlyphs">0</text>
<line x1="313.50" y1="674.40" x2="315.50" y2="674.40" stroke="#ababab" stroke-width="1"/>
<text x="310.30" y="677.00" font-size="7.2" font-weight="bold" font-family='"Liberation Sans", sans-serif' fill="#111" stroke="#111" stroke-width="0.25" text-anchor="end" textLength="7.00" lengthAdjust="spacingAndGlyphs">20</text>
<line x1="313.50" y1="654.60" x2="315.50" y2="654.60" stroke="#ababab" stroke-width="1"/>
<text x="310.30" y="657.20" font-size="7.2" font-weight="bold" font-family='"Liberation Sans", sans-serif' fill="#111" stroke="#111" stroke-width="0.25" text-anchor="end" textLength="7.00" lengthAdjust="spacingAndGlyphs">40</text>
<line x1="313.50" y1="634.80" x2="315.50" y2="634.80" stroke="#ababab" stroke-width="1"/>
<text x="310.30" y="637.40" font-size="7.2" font-weight="bold" font-family='"Liberation Sans", sans-serif' fill="#111" stroke="#111" stroke-width="0.25" text-anchor="end" textLength="7.00" lengthAdjust="spacingAndGlyphs">60</text>
<line x1="313.50" y1="615.00" x2="315.50" y2="615.00" stroke="#ababab" stroke-width="1"/>
<text x="310.30" y="617.60" font-size="7.2" font-weight="bold" font-family='"Liberation Sans", sans-serif' fill="#111" stroke="#111" stroke-width="0.25" text-anchor="end" textLength="7.00" lengthAdjust="spacingAndGlyphs">80</text>
<line x1="313.50" y1="595.20" x2="315.50" y2="595.20" stroke="#ababab" stroke-width="1"/>
<text x="310.30" y="597.80" font-size="7.2" font-weight="bold" font-family='"Liberation Sans", sans-serif' fill="#111" stroke="#111" stroke-width="0.25" text-anchor="end" textLength="10.40" lengthAdjust="spacingAndGlyphs">100</text>
<text x="315.00" y="706.80" font-size="7.2" font-weight="bold" font-family='"Liberation Sans", sans-serif' fill="#111" stroke="#111" stroke-width="0.25" text-anchor="middle" textLength="3.80" lengthAdjust="spacingAndGlyphs">0</text>
<text x="335.00" y="706.80" font-size="7.2" font-weight="bold" font-family='"Liberation Sans", sans-serif' fill="#111" stroke="#111" stroke-width="0.25" text-anchor="middle" textLength="3.80" lengthAdjust="spacingAndGlyphs">2</text>
<text x="355.00" y="706.80" font-size="7.2" font-weight="bold" font-family='"Liberation Sans", sans-serif' fill="#111" stroke="#111" stroke-width="0.25" text-anchor="middle" textLength="3.80" lengthAdjust="spacingAndGlyphs">4</text>
<text x="375.00" y="706.80" font-size="7.2" font-weight="bold" font-family='"Liberation Sans", sans-serif' fill="#111" stroke="#111" stroke-width="0.25" text-anchor="middle" textLength="3.80" lengthAdjust="spacingAndGlyphs">6</text>
<text x="395.00" y="706.80" font-size="7.2" font-weight="bold" font-family='"Liberation Sans", sans-serif' fill="#111" stroke="#111" stroke-width="0.25" text-anchor="middle" textLength="3.80" lengthAdjust="spacingAndGlyphs">8</text>
<text x="415.00" y="706.80" font-size="7.2" font-weight="bold" font-family='"Liberation Sans", sans-serif' fill="#111" stroke="#111" stroke-width="0.25" text-anchor="middle" textLength="7.00" lengthAdjust="spacingAndGlyphs">10</text>
<text x="435.00" y="706.80" font-size="7.2" font-weight="bold" font-family='"Liberation Sans", sans-serif' fill="#111" stroke="#111" stroke-width="0.25" text-anchor="middle" textLength="7.00" lengthAdjust="spacingAndGlyphs">12</text>
<text x="455.00" y="706.80" font-size="7.2" font-weight="bold" font-family='"Liberation Sans", sans-serif' fill="#111" stroke="#111" stroke-width="0.25" text-anchor="middle" textLength="7.00" lengthAdjust="spacingAndGlyphs">14</text>
<text x="475.00" y="706.80" font-size="7.2" font-weight="bold" font-family='"Liberation Sans", sans-serif' fill="#111" stroke="#111" stroke-width="0.25" text-anchor="middle" textLength="7.00" lengthAdjust="spacingAndGlyphs">16</text>
<text x="495.00" y="706.80" font-size="7.2" font-weight="bold" font-family='"Liberation Sans", sans-serif' fill="#111" stroke="#111" stroke-width="0.25" text-anchor="middle" textLength="7.00" lengthAdjust="spacingAndGlyphs">18</text>
<text x="515.00" y="706.80" font-size="7.2" font-weight="bold" font-family='"Liberation Sans", sans-serif' fill="#111" stroke="#111" stroke-width="0.25" text-anchor="middle" textLength="7.00" lengthAdjust="spacingAndGlyphs">20</text>
<text x="415.00" y="717.40" font-size="8.4" font-weight="bold" font-family='"Liberation Sans", sans-serif' fill="#111" stroke="#111" stroke-width="0.25" text-anchor="middle" textLength="52.00" lengthAdjust="spacingAndGlyphs">Day of Culture</text>
<text x="413.75" y="589.30" font-size="8.2" font-weight="bold" font-family='"Liberation Sans", sans-serif' fill="#111" stroke="#111" stroke-width="0.25" text-anchor="middle" textLength="116.50" lengthAdjust="spacingAndGlyphs">Percentage of Cells in S Phase</text>
<text x="295.10" y="644.50" font-size="7.8" font-weight="bold" font-family='"Liberation Sans", sans-serif' fill="#111" stroke="#111" stroke-width="0.25" text-anchor="middle" textLength="85.40" lengthAdjust="spacingAndGlyphs" transform="rotate(-90 295.10 644.50)">% of Cells in S Phase</text>
<rect x="320.2" y="599.4" width="68.6" height="31.0" fill="#fff" stroke="#cfcfcf" stroke-width="0.8"/>
<path d="M375.00,653.61 C378.33,655.10 388.33,662.12 395.00,662.52 C401.67,662.92 410.00,658.63 415.00,655.99 C420.00,653.35 420.00,644.17 425.00,646.68 C430.00,649.19 438.33,663.91 445.00,671.03 C451.67,678.16 458.33,686.51 465.00,689.45 C471.67,692.39 478.33,691.99 485.00,688.66 C491.67,685.32 501.67,672.65 505.00,669.45" fill="none" stroke="#111" stroke-width="1.3"/>
<ellipse cx="375.00" cy="653.61" rx="1.95" ry="2.53" fill="#000"/>
<ellipse cx="395.00" cy="662.52" rx="1.95" ry="2.53" fill="#000"/>
<ellipse cx="415.00" cy="655.99" rx="1.95" ry="2.53" fill="#000"/>
<ellipse cx="425.00" cy="646.68" rx="1.95" ry="2.53" fill="#000"/>
<ellipse cx="445.00" cy="671.03" rx="1.95" ry="2.53" fill="#000"/>
<ellipse cx="465.00" cy="689.45" rx="1.95" ry="2.53" fill="#000"/>
<ellipse cx="485.00" cy="688.66" rx="1.95" ry="2.53" fill="#000"/>
<ellipse cx="505.00" cy="669.45" rx="1.95" ry="2.53" fill="#000"/>
<line x1="322.40" y1="605.00" x2="340.70" y2="605.00" stroke="#999" stroke-width="1.0"/>
<circle cx="331.30" cy="605.00" r="2.00" fill="#000" stroke="none" stroke-width="1"/>
<text x="342.00" y="607.60" font-size="7.4" font-weight="bold" font-family='"Liberation Sans", sans-serif' fill="#111" stroke="#111" stroke-width="0.25" textLength="34.00" lengthAdjust="spacingAndGlyphs">0 nM 5-Aza</text>
<path d="M395.00,662.52 C398.33,661.74 410.00,659.58 415.00,657.87 C420.00,656.15 420.00,649.80 425.00,652.22 C430.00,654.65 438.33,666.86 445.00,672.42 C451.67,677.98 458.33,682.67 465.00,685.59 C471.67,688.51 478.33,692.37 485.00,689.94 C491.67,687.52 501.67,674.19 505.00,671.03" fill="none" stroke="#111" stroke-width="1.0" stroke-dasharray="1,1.2"/>
<ellipse cx="395.00" cy="662.52" rx="1.95" ry="2.53" fill="#000"/>
<ellipse cx="415.00" cy="657.87" rx="1.95" ry="2.53" fill="#000"/>
<ellipse cx="425.00" cy="652.22" rx="1.95" ry="2.53" fill="#000"/>
<ellipse cx="445.00" cy="672.42" rx="1.95" ry="2.53" fill="#000"/>
<ellipse cx="465.00" cy="685.59" rx="1.95" ry="2.53" fill="#000"/>
<ellipse cx="485.00" cy="689.94" rx="1.95" ry="2.53" fill="#000"/>
<ellipse cx="505.00" cy="671.03" rx="1.95" ry="2.53" fill="#000"/>
<line x1="322.40" y1="615.00" x2="340.70" y2="615.00" stroke="#999" stroke-width="1.0" stroke-dasharray="1,1.2"/>
<circle cx="331.30" cy="615.00" r="2.00" fill="#000" stroke="none" stroke-width="1"/>
<text x="342.00" y="617.60" font-size="7.4" font-weight="bold" font-family='"Liberation Sans", sans-serif' fill="#111" stroke="#111" stroke-width="0.25" textLength="41.50" lengthAdjust="spacingAndGlyphs">300 nM 5-Aza</text>
<path d="M395.00,662.52 C398.33,662.31 410.00,662.78 415.00,661.23 C420.00,659.68 420.00,650.57 425.00,653.21 C430.00,655.85 438.33,671.23 445.00,677.07 C451.67,682.91 458.33,686.23 465.00,688.26 C471.67,690.29 478.33,691.23 485.00,689.25 C491.67,687.27 501.67,678.52 505.00,676.38" fill="none" stroke="#111" stroke-width="1.0" stroke-dasharray="2.5,1.5"/>
<ellipse cx="395.00" cy="662.52" rx="1.95" ry="2.53" fill="#000"/>
<ellipse cx="415.00" cy="661.23" rx="1.95" ry="2.53" fill="#000"/>
<ellipse cx="425.00" cy="653.21" rx="1.95" ry="2.53" fill="#000"/>
<ellipse cx="445.00" cy="677.07" rx="1.95" ry="2.53" fill="#000"/>
<ellipse cx="465.00" cy="688.26" rx="1.95" ry="2.53" fill="#000"/>
<ellipse cx="485.00" cy="689.25" rx="1.95" ry="2.53" fill="#000"/>
<ellipse cx="505.00" cy="676.38" rx="1.95" ry="2.53" fill="#000"/>
<line x1="322.40" y1="625.50" x2="340.70" y2="625.50" stroke="#999" stroke-width="1.0" stroke-dasharray="2.5,1.5"/>
<polygon points="331.30,623.10 333.30,625.50 331.30,627.90 329.30,625.50" fill="#000"/>
<text x="342.00" y="628.10" font-size="7.4" font-weight="bold" font-family='"Liberation Sans", sans-serif' fill="#111" stroke="#111" stroke-width="0.25" textLength="41.50" lengthAdjust="spacingAndGlyphs">500 nM 5-Aza</text>
</svg>
</body></html>
